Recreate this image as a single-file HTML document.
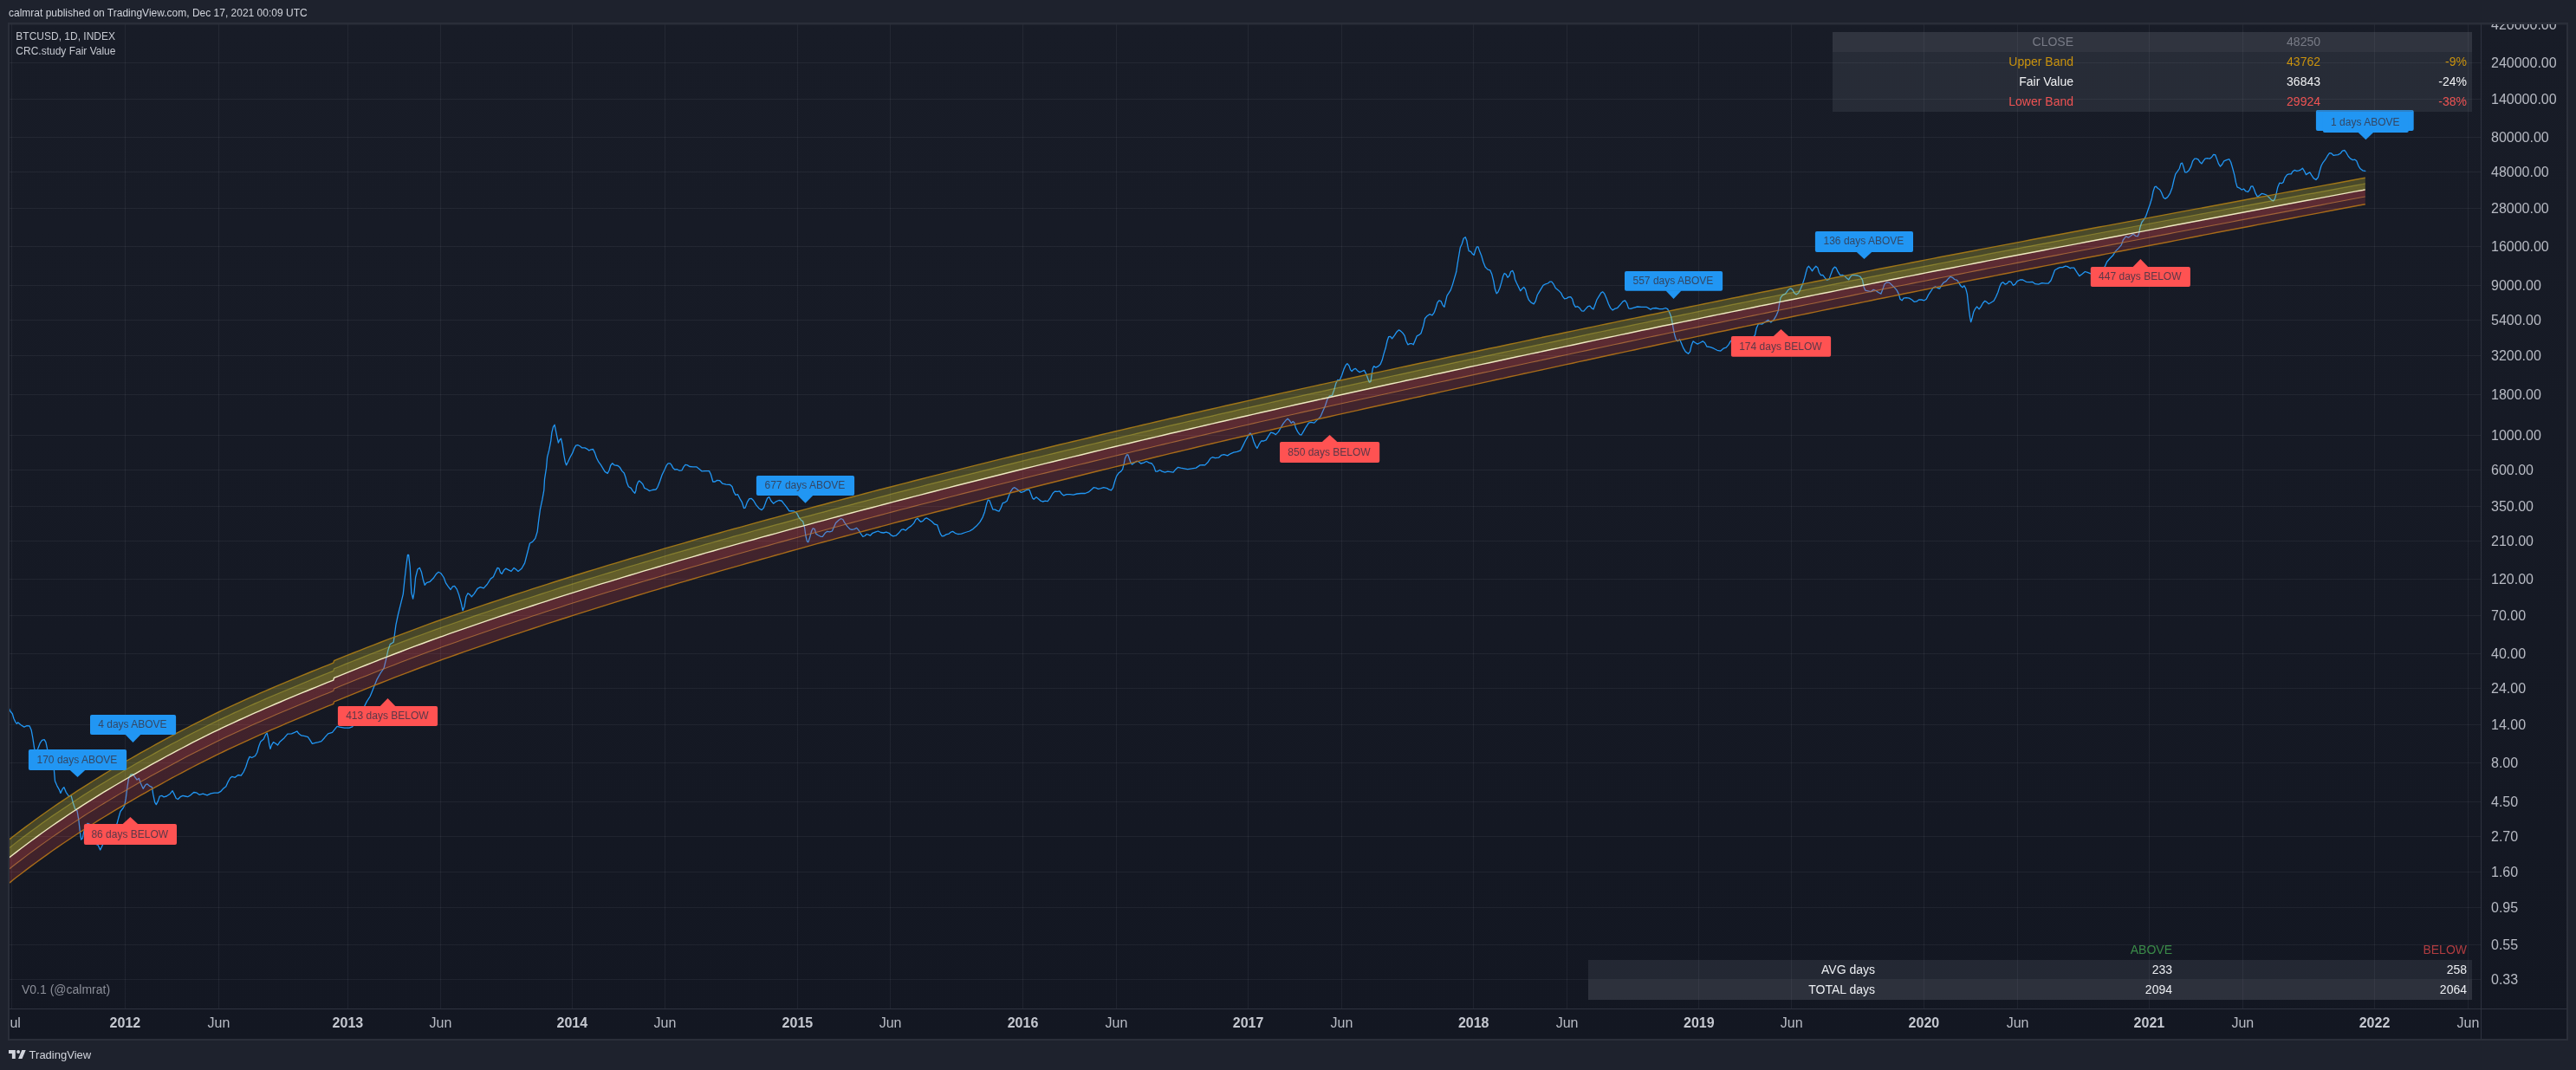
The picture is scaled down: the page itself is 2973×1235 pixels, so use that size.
<!DOCTYPE html><html><head><meta charset="utf-8"><title>BTCUSD Fair Value</title><style>
html,body{margin:0;padding:0;background:#1e222d;}
body{width:2973px;height:1235px;position:relative;overflow:hidden;font-family:"Liberation Sans",sans-serif;color:#d1d4dc;}
#root{position:absolute;left:0;top:0;width:2973px;height:1235px;will-change:transform;}
.abs{position:absolute;}
.t{white-space:nowrap;}
#frame{left:9px;top:26px;width:2951px;height:1171px;border:2px solid #2a2e39;background:linear-gradient(#181c27,#131722);}
#chart{left:0;top:0;width:2973px;height:1235px;}
.lg{font-size:12px;line-height:14px;color:#c6c9d1;}
.pl{left:11px;font-size:16px;line-height:18px;height:18px;color:#b8bbc4;}
.tl{font-size:16px;line-height:18px;height:18px;color:#b8bbc4;transform:translateX(-50%);}
.tl.b{font-weight:bold;color:#c5c8d0;}
.lab{font-size:12px;line-height:14px;height:14px;transform:translateX(-50%);}
.lab.b{color:#344764;}
.lab.r{color:#5b3848;}
.tb{font-size:14px;line-height:23px;height:23px;text-align:right;}
.row{left:0;width:100%;height:23px;}

</style></head><body><div id="root">
<div class="abs t" style="left:10px;top:7.0px;font-size:12px;line-height:16px;color:#d1d4dc">calmrat published on TradingView.com, Dec 17, 2021 00:09 UTC</div>
<div class="abs" id="frame"></div>
<svg class="abs" id="chart" width="2973" height="1235" viewBox="0 0 2973 1235">
<defs><clipPath id="cp"><rect x="11" y="28" width="2852" height="1136"/></clipPath></defs>
<rect x="13" y="28" width="1" height="1136" fill="rgba(240,243,250,0.06)"/>
<rect x="144" y="28" width="1" height="1136" fill="rgba(240,243,250,0.06)"/>
<rect x="252" y="28" width="1" height="1136" fill="rgba(240,243,250,0.06)"/>
<rect x="401" y="28" width="1" height="1136" fill="rgba(240,243,250,0.06)"/>
<rect x="508" y="28" width="1" height="1136" fill="rgba(240,243,250,0.06)"/>
<rect x="660" y="28" width="1" height="1136" fill="rgba(240,243,250,0.06)"/>
<rect x="767" y="28" width="1" height="1136" fill="rgba(240,243,250,0.06)"/>
<rect x="920" y="28" width="1" height="1136" fill="rgba(240,243,250,0.06)"/>
<rect x="1027" y="28" width="1" height="1136" fill="rgba(240,243,250,0.06)"/>
<rect x="1180" y="28" width="1" height="1136" fill="rgba(240,243,250,0.06)"/>
<rect x="1288" y="28" width="1" height="1136" fill="rgba(240,243,250,0.06)"/>
<rect x="1440" y="28" width="1" height="1136" fill="rgba(240,243,250,0.06)"/>
<rect x="1548" y="28" width="1" height="1136" fill="rgba(240,243,250,0.06)"/>
<rect x="1700" y="28" width="1" height="1136" fill="rgba(240,243,250,0.06)"/>
<rect x="1808" y="28" width="1" height="1136" fill="rgba(240,243,250,0.06)"/>
<rect x="1960" y="28" width="1" height="1136" fill="rgba(240,243,250,0.06)"/>
<rect x="2067" y="28" width="1" height="1136" fill="rgba(240,243,250,0.06)"/>
<rect x="2220" y="28" width="1" height="1136" fill="rgba(240,243,250,0.06)"/>
<rect x="2328" y="28" width="1" height="1136" fill="rgba(240,243,250,0.06)"/>
<rect x="2480" y="28" width="1" height="1136" fill="rgba(240,243,250,0.06)"/>
<rect x="2588" y="28" width="1" height="1136" fill="rgba(240,243,250,0.06)"/>
<rect x="2740" y="28" width="1" height="1136" fill="rgba(240,243,250,0.06)"/>
<rect x="2848" y="28" width="1" height="1136" fill="rgba(240,243,250,0.06)"/>
<rect x="11" y="72" width="2852" height="1" fill="rgba(240,243,250,0.06)"/>
<rect x="11" y="114" width="2852" height="1" fill="rgba(240,243,250,0.06)"/>
<rect x="11" y="158" width="2852" height="1" fill="rgba(240,243,250,0.06)"/>
<rect x="11" y="198" width="2852" height="1" fill="rgba(240,243,250,0.06)"/>
<rect x="11" y="240" width="2852" height="1" fill="rgba(240,243,250,0.06)"/>
<rect x="11" y="284" width="2852" height="1" fill="rgba(240,243,250,0.06)"/>
<rect x="11" y="329" width="2852" height="1" fill="rgba(240,243,250,0.06)"/>
<rect x="11" y="369" width="2852" height="1" fill="rgba(240,243,250,0.06)"/>
<rect x="11" y="410" width="2852" height="1" fill="rgba(240,243,250,0.06)"/>
<rect x="11" y="455" width="2852" height="1" fill="rgba(240,243,250,0.06)"/>
<rect x="11" y="502" width="2852" height="1" fill="rgba(240,243,250,0.06)"/>
<rect x="11" y="542" width="2852" height="1" fill="rgba(240,243,250,0.06)"/>
<rect x="11" y="584" width="2852" height="1" fill="rgba(240,243,250,0.06)"/>
<rect x="11" y="624" width="2852" height="1" fill="rgba(240,243,250,0.06)"/>
<rect x="11" y="668" width="2852" height="1" fill="rgba(240,243,250,0.06)"/>
<rect x="11" y="710" width="2852" height="1" fill="rgba(240,243,250,0.06)"/>
<rect x="11" y="754" width="2852" height="1" fill="rgba(240,243,250,0.06)"/>
<rect x="11" y="794" width="2852" height="1" fill="rgba(240,243,250,0.06)"/>
<rect x="11" y="836" width="2852" height="1" fill="rgba(240,243,250,0.06)"/>
<rect x="11" y="880" width="2852" height="1" fill="rgba(240,243,250,0.06)"/>
<rect x="11" y="925" width="2852" height="1" fill="rgba(240,243,250,0.06)"/>
<rect x="11" y="965" width="2852" height="1" fill="rgba(240,243,250,0.06)"/>
<rect x="11" y="1006" width="2852" height="1" fill="rgba(240,243,250,0.06)"/>
<rect x="11" y="1047" width="2852" height="1" fill="rgba(240,243,250,0.06)"/>
<rect x="11" y="1090" width="2852" height="1" fill="rgba(240,243,250,0.06)"/>
<rect x="11" y="1130" width="2852" height="1" fill="rgba(240,243,250,0.06)"/>
<rect x="2863" y="28" width="1" height="1171" fill="#2f3340"/>
<rect x="11" y="1164" width="2951" height="1" fill="#2f3340"/>
<rect x="11" y="28" width="2951" height="1" fill="rgba(42,46,57,0.55)"/>
<g clip-path="url(#cp)">
<polyline points="10.3,817.4 11.9,821.0 14.3,823.7 15.9,829.3 17.8,833.3 19.4,835.3 20.6,833.8 23.8,836.5 27.8,839.1 31.0,837.7 34.1,838.0 36.2,842.8 37.8,851.5 39.7,864.2 41.6,868.2 43.7,864.2 46.1,857.9 48.5,854.4 51.1,853.6 52.9,856.6 54.5,864.2 57.2,873.8 60.4,883.3 62.4,888.9 63.5,901.6 65.9,907.1 68.6,911.9 69.9,915.4 72.3,910.3 73.9,908.7 76.2,914.3 79.4,919.0 82.1,918.3 84.2,926.2 86.6,933.4 89.0,935.7 90.9,946.9 92.1,958.0 93.7,969.1 95.3,967.5 96.6,960.4 98.5,954.8 100.9,950.4 102.9,950.8 105.6,958.0 108.8,967.5 111.2,974.6 113.1,975.4 115.7,981.0 118.3,975.4 122.3,967.5 127.1,960.4 131.8,954.0 135.0,950.8 136.9,943.7 139.0,936.5 142.2,932.5 143.8,929.4 145.3,921.4 146.9,908.7 148.5,898.4 150.9,894.0 153.8,893.6 155.7,896.8 158.1,900.0 160.4,898.4 162.3,904.0 165.2,910.3 167.6,906.3 169.7,904.8 172.4,907.1 175.5,908.7 176.7,916.7 178.7,926.2 180.3,928.6 182.4,924.6 184.3,919.0 186.7,918.3 189.0,919.9 192.2,919.0 196.3,916.2 199.1,912.7 201.2,916.9 203.3,921.5 205.4,922.5 208.2,919.7 211.0,918.3 213.8,919.0 216.6,919.7 220.2,917.6 223.7,914.5 226.5,914.8 230.0,917.3 234.2,916.2 239.1,917.9 243.3,915.9 247.5,915.2 251.7,915.1 254.5,913.7 257.3,910.6 260.8,907.8 262.9,902.9 265.7,898.0 267.8,896.3 271.3,897.3 274.8,894.5 278.3,895.2 281.1,891.0 283.7,885.3 286.1,877.6 288.1,873.4 290.7,874.5 294.5,872.5 296.8,868.5 298.7,861.5 300.8,855.9 304.3,853.1 306.4,848.2 308.2,846.1 309.5,851.7 310.9,860.1 312.0,864.3 313.4,860.1 315.5,856.6 317.9,858.0 320.4,860.1 323.2,855.9 328.1,851.7 331.9,847.2 336.5,846.8 340.0,845.4 342.8,844.0 344.9,846.8 347.7,848.9 351.9,849.6 355.4,850.6 357.6,853.8 360.4,858.4 363.9,857.3 367.4,856.6 370.9,855.6 374.4,851.7 378.6,846.8 383.5,845.4 386.3,841.9 389.1,838.4 391.9,839.1 397.5,840.1 403.1,840.1 406.6,838.8 409.4,834.9 412.9,828.6 417.1,821.5 420.6,815.2 423.4,809.6 427.0,804.0 428.7,800.0 431.9,792.1 435.1,784.1 439.1,777.0 443.0,771.4 445.4,761.9 447.8,750.8 450.2,743.6 454.2,741.2 455.3,733.3 456.9,721.4 459.4,709.5 462.6,696.7 465.3,685.6 466.9,669.7 468.9,652.2 470.5,640.3 471.6,640.3 473.2,653.8 474.8,684.0 476.6,691.2 478.0,684.0 479.6,666.5 482.0,657.0 484.4,655.4 486.4,660.2 488.3,668.9 490.2,675.3 492.3,672.6 496.3,671.3 500.2,667.3 503.4,662.6 506.1,660.2 509.0,661.8 512.2,666.5 514.5,672.9 517.2,676.9 520.1,680.5 522.5,676.9 524.6,676.4 527.3,680.1 529.6,686.4 532.0,695.1 534.1,704.7 536.0,699.9 537.9,688.8 540.0,684.8 542.4,686.4 544.3,688.8 547.1,685.6 551.1,679.3 554.3,677.7 558.2,678.9 562.2,674.5 566.2,668.1 569.4,665.8 571.8,660.2 574.1,655.4 576.0,656.2 577.6,661.0 579.2,662.3 581.8,657.8 583.7,656.2 586.9,657.8 590.0,659.4 593.2,655.4 595.6,657.3 598.0,659.4 602.0,656.2 605.6,649.9 608.3,639.5 611.5,627.0 614.6,625.4 617.8,621.4 620.2,613.5 621.5,602.4 623.4,588.1 625.8,576.9 627.8,565.8 628.5,553.1 630.5,540.4 631.6,527.7 633.7,519.7 635.8,508.6 636.9,499.1 638.5,492.7 640.1,490.3 641.2,495.9 642.8,503.8 644.4,511.0 645.9,507.8 647.5,506.2 649.1,513.4 650.7,524.5 652.3,533.2 653.6,536.9 655.5,533.2 658.0,527.7 660.7,522.9 662.8,517.3 664.7,514.2 667.1,513.7 669.5,515.0 671.8,516.9 675.0,516.9 677.4,518.1 679.8,520.0 682.2,518.9 684.5,518.5 686.6,522.9 688.5,528.5 690.9,533.2 693.3,536.4 695.7,540.4 698.1,544.4 701.2,546.4 703.1,542.8 704.7,537.2 706.8,534.8 709.2,536.9 713.1,537.5 715.5,539.6 717.9,543.6 720.3,546.0 722.2,551.5 723.5,557.1 725.4,561.8 728.2,563.4 730.6,567.1 732.7,569.3 733.8,566.6 734.6,561.0 736.5,556.3 737.8,555.0 740.2,557.1 741.8,558.7 743.8,563.4 746.5,564.5 749.7,566.6 752.9,565.5 756.9,565.0 758.8,562.6 761.6,555.5 764.0,548.3 766.7,542.8 769.2,537.2 771.1,534.8 773.5,534.8 775.1,536.9 776.7,540.1 778.8,542.0 781.5,541.7 784.2,543.2 787.0,542.8 789.0,538.8 791.0,536.4 793.4,536.9 795.8,538.5 799.8,538.8 803.7,538.8 806.9,541.2 810.1,543.9 814.1,543.6 818.5,543.6 820.4,547.5 822.8,556.0 825.2,556.0 827.6,554.4 830.7,554.7 833.9,558.2 837.9,559.1 842.7,559.5 845.0,561.8 847.1,568.2 849.0,571.4 851.4,570.6 853.8,575.3 856.2,579.3 858.5,586.5 860.1,586.1 862.4,579.6 864.8,575.6 867.1,575.3 869.5,577.5 872.7,582.8 875.9,586.7 879.1,588.6 881.5,586.0 883.8,579.6 885.7,574.8 887.8,573.7 889.9,578.0 892.6,581.2 895.8,578.8 898.9,577.5 902.1,578.0 904.5,581.2 907.7,585.1 910.9,589.9 913.2,589.6 916.4,589.9 919.6,592.3 922.0,597.1 924.4,600.2 926.7,601.8 928.6,609.0 929.9,618.5 931.5,624.9 932.8,625.7 934.7,620.1 936.6,613.0 938.2,609.8 940.2,610.6 941.8,616.1 944.2,617.7 947.1,619.3 949.3,619.3 952.2,615.3 954.5,613.4 957.7,613.8 960.4,613.0 962.5,608.2 964.6,603.4 968.1,600.2 970.4,598.7 972.8,599.5 974.4,602.6 977.6,607.1 980.8,610.6 983.1,611.4 986.3,610.6 988.7,609.3 991.1,612.2 993.5,616.1 995.9,619.3 998.2,618.5 1000.2,616.5 1002.2,617.2 1004.3,618.2 1007.0,615.3 1010.2,614.1 1013.3,613.0 1016.5,614.5 1019.7,615.0 1022.9,614.1 1026.1,615.3 1028.4,617.7 1030.8,618.8 1034.0,618.2 1037.2,615.3 1040.4,611.4 1042.7,610.9 1045.1,612.2 1048.3,609.3 1051.5,607.1 1054.7,603.9 1057.0,599.5 1059.0,598.2 1060.5,600.2 1062.6,602.3 1065.0,601.4 1067.4,598.7 1069.4,597.9 1072.1,599.5 1075.3,601.8 1078.5,605.0 1081.7,605.8 1083.3,610.6 1085.3,616.1 1087.2,618.8 1089.6,618.5 1092.0,616.9 1095.2,616.1 1097.6,614.1 1099.6,613.4 1102.3,615.3 1105.5,616.5 1109.5,616.1 1114.2,614.5 1119.0,613.0 1123.0,610.6 1127.0,607.1 1130.9,602.6 1134.1,597.1 1136.5,590.7 1138.7,581.4 1140.3,577.0 1141.9,577.5 1144.0,583.0 1145.9,588.1 1148.3,588.1 1150.7,589.4 1153.0,590.2 1155.1,586.2 1157.3,580.6 1159.9,579.8 1162.1,578.2 1164.2,572.7 1166.5,567.1 1168.9,563.6 1171.0,562.7 1173.2,564.3 1175.8,566.3 1178.5,568.4 1181.6,567.4 1184.8,565.5 1188.0,565.2 1189.6,569.5 1191.7,575.1 1193.2,576.3 1196.0,573.8 1198.7,575.9 1201.2,578.2 1203.4,579.0 1206.3,578.2 1209.1,578.6 1211.8,575.1 1215.0,569.5 1217.4,567.1 1220.6,567.4 1223.0,566.8 1225.3,570.0 1227.7,571.9 1230.9,570.6 1234.9,570.6 1238.8,571.1 1242.8,570.0 1247.6,569.5 1252.4,569.5 1256.3,567.9 1259.5,565.2 1262.2,562.7 1264.8,563.1 1267.5,564.3 1270.6,563.6 1273.8,562.7 1277.8,563.6 1280.2,565.2 1282.5,565.9 1284.5,563.1 1286.5,556.0 1288.6,549.6 1291.3,545.7 1293.7,544.1 1295.6,541.7 1297.2,535.3 1298.4,529.0 1300.3,525.0 1301.9,525.0 1303.5,529.8 1305.1,534.5 1306.7,536.1 1309.2,534.1 1312.0,532.2 1314.3,533.0 1316.7,535.0 1319.9,534.1 1323.1,532.5 1326.2,534.1 1329.4,535.0 1331.8,538.5 1333.7,544.1 1335.8,544.1 1338.5,542.5 1341.3,544.1 1344.5,545.2 1347.7,544.1 1350.9,544.6 1354.1,545.2 1356.9,541.7 1359.6,539.3 1362.8,540.1 1366.8,540.9 1370.7,541.7 1375.5,540.9 1380.3,540.1 1385.0,536.9 1388.2,536.6 1390.6,536.9 1393.8,533.8 1397.0,529.0 1399.3,527.7 1402.5,528.7 1406.5,528.2 1409.5,525.4 1412.7,524.6 1416.7,525.9 1419.9,523.8 1423.8,522.2 1427.8,521.4 1431.8,519.8 1434.2,515.1 1437.3,508.7 1440.5,503.1 1442.9,500.0 1444.8,502.4 1446.9,509.5 1448.9,514.3 1450.8,517.5 1453.2,512.7 1455.6,509.0 1458.5,509.0 1461.2,507.9 1463.6,503.9 1466.7,499.2 1469.9,500.0 1472.3,501.6 1475.5,498.4 1478.7,492.8 1481.0,488.9 1484.2,484.9 1486.1,483.3 1488.2,485.2 1490.3,488.4 1492.2,486.5 1493.8,487.7 1495.3,493.6 1497.7,498.4 1500.1,501.6 1502.0,502.0 1504.1,498.4 1507.3,492.8 1510.4,488.1 1513.1,487.3 1516.8,488.1 1520.0,484.9 1524.0,480.9 1527.1,473.8 1529.5,468.2 1531.9,461.0 1534.3,457.1 1537.5,456.3 1539.8,449.9 1541.7,442.8 1543.8,438.5 1546.2,438.8 1548.6,433.2 1551.0,426.1 1553.3,421.3 1554.9,419.7 1557.0,422.1 1558.6,426.9 1560.2,428.5 1562.4,426.1 1564.5,425.3 1566.5,427.7 1569.2,429.6 1571.9,428.5 1574.5,427.4 1576.7,431.6 1578.8,437.2 1580.4,441.2 1582.0,440.4 1583.1,432.4 1584.3,425.3 1585.6,422.6 1587.8,424.2 1590.4,422.9 1593.1,420.5 1595.1,415.8 1597.0,408.6 1599.4,400.7 1601.0,393.5 1602.6,388.7 1604.7,388.3 1606.6,390.8 1609.4,387.1 1612.1,382.9 1614.5,380.8 1616.9,382.4 1619.3,384.8 1621.2,387.6 1622.8,393.5 1624.8,397.8 1627.2,396.7 1629.6,396.7 1631.2,397.8 1633.3,392.7 1635.2,387.9 1637.6,386.7 1640.0,384.8 1642.7,376.2 1644.6,367.5 1646.7,365.1 1649.9,362.7 1653.0,363.8 1655.4,360.3 1657.3,354.8 1658.9,349.2 1661.0,346.8 1663.0,347.6 1665.0,352.1 1666.9,354.3 1668.5,347.6 1670.0,341.3 1672.1,338.1 1674.2,334.9 1676.4,328.6 1678.5,321.4 1680.8,313.5 1682.1,304.7 1683.7,295.2 1685.3,285.7 1687.2,281.7 1689.1,275.3 1691.2,273.7 1692.8,277.7 1693.9,284.1 1695.2,289.6 1697.5,290.4 1699.6,293.3 1701.2,294.4 1702.8,288.8 1704.4,284.9 1706.0,284.9 1707.5,289.6 1709.8,295.2 1711.8,302.3 1714.2,308.2 1717.1,311.1 1719.8,311.9 1721.8,316.6 1723.8,324.6 1725.3,333.3 1727.2,338.9 1728.8,337.3 1730.9,332.5 1733.0,325.4 1734.6,319.0 1736.2,315.5 1738.1,316.6 1740.0,320.3 1742.0,318.2 1743.6,313.5 1745.7,312.4 1747.3,315.9 1748.4,322.2 1750.5,327.0 1752.4,330.9 1754.7,335.7 1756.8,333.3 1758.7,331.4 1760.6,334.1 1762.2,340.5 1764.3,346.0 1767.0,349.2 1770.2,350.8 1772.2,347.6 1774.3,340.5 1776.2,337.3 1778.6,333.3 1781.0,329.4 1783.8,327.8 1786.5,327.0 1788.9,325.1 1790.8,325.1 1792.9,327.8 1795.3,332.5 1798.4,334.9 1801.6,338.1 1803.5,342.1 1805.6,344.8 1808.0,344.4 1810.4,342.9 1812.7,342.6 1814.7,345.2 1816.2,350.8 1818.3,354.3 1820.7,353.7 1823.1,355.6 1825.5,358.8 1827.8,359.1 1830.2,356.4 1832.6,353.7 1835.0,353.2 1836.9,355.6 1839.0,356.9 1841.0,351.6 1842.9,346.0 1845.3,342.1 1847.7,338.1 1849.6,336.8 1851.7,338.9 1854.1,344.4 1856.4,350.8 1858.8,355.6 1861.2,358.0 1863.6,356.4 1866.8,355.3 1870.0,351.6 1873.1,347.9 1875.5,346.8 1877.6,350.0 1879.5,355.9 1881.9,356.4 1885.0,355.3 1889.8,354.0 1894.6,354.3 1900.1,354.3 1902.5,355.6 1904.9,357.2 1907.3,355.9 1911.1,355.5 1915.1,356.6 1919.1,356.6 1922.2,355.5 1924.6,356.6 1926.7,360.6 1928.6,365.3 1929.9,371.7 1931.0,378.1 1932.6,386.0 1934.2,391.6 1936.2,393.9 1938.5,391.6 1940.5,396.3 1942.9,401.9 1945.3,405.9 1948.5,408.2 1950.5,405.9 1952.1,398.7 1954.0,393.9 1956.4,395.5 1959.1,397.1 1962.3,395.5 1965.2,393.9 1967.5,395.5 1969.9,400.0 1973.9,400.6 1977.9,402.2 1981.8,404.3 1985.8,405.1 1989.0,402.2 1992.2,401.1 1995.0,397.9 1997.2,393.9 1999.3,392.0 2003.3,391.7 2008.8,392.4 2014.4,390.8 2020.0,390.1 2024.0,388.4 2025.5,386.8 2027.1,378.9 2029.5,373.6 2033.5,374.1 2037.0,371.7 2040.6,369.3 2043.8,372.0 2047.0,369.3 2050.2,363.8 2052.2,359.0 2053.3,352.6 2054.9,343.9 2057.3,340.7 2060.5,339.1 2063.7,334.8 2066.5,332.8 2068.8,334.4 2070.8,338.3 2073.2,339.9 2075.6,338.3 2078.0,333.6 2080.4,328.0 2082.7,320.9 2084.3,314.5 2085.9,308.9 2087.5,307.3 2089.4,309.7 2091.5,312.9 2093.6,309.7 2095.8,307.3 2097.8,308.9 2099.4,314.5 2101.5,317.7 2103.7,317.4 2106.3,320.9 2108.5,323.2 2111.0,322.4 2112.9,316.9 2115.3,310.5 2117.4,308.1 2119.3,309.4 2121.2,313.7 2123.7,317.7 2126.4,317.4 2128.8,318.5 2131.2,320.9 2133.6,322.8 2135.5,319.6 2137.6,317.4 2140.7,317.7 2143.9,318.0 2147.1,319.3 2149.5,323.2 2151.1,331.2 2152.7,335.1 2155.8,335.9 2159.0,336.7 2162.2,334.4 2165.1,335.5 2167.8,337.5 2170.9,339.1 2173.0,333.6 2174.9,328.0 2177.3,325.9 2180.3,326.1 2183.0,328.5 2185.9,331.4 2189.1,334.9 2191.4,339.6 2193.0,345.2 2195.1,346.8 2197.0,344.1 2200.2,343.6 2203.4,344.1 2206.6,346.0 2209.4,348.4 2212.1,347.9 2214.5,346.0 2217.7,346.0 2220.8,346.8 2223.2,345.2 2225.6,340.4 2228.8,335.7 2231.2,332.0 2233.6,330.9 2236.4,332.5 2238.7,333.0 2240.7,329.3 2243.1,326.1 2246.0,324.6 2248.7,321.4 2251.0,319.3 2253.4,320.3 2255.8,322.5 2258.7,323.4 2260.6,326.1 2263.0,330.1 2265.0,331.7 2266.9,329.8 2268.8,333.3 2270.4,339.6 2271.4,349.2 2272.5,358.7 2273.6,366.7 2274.6,371.7 2276.2,366.7 2277.7,360.3 2279.7,356.3 2281.6,353.9 2284.1,356.8 2286.3,353.9 2288.4,350.0 2290.8,347.3 2293.2,348.9 2295.2,350.8 2297.9,349.2 2301.1,347.3 2303.5,342.8 2305.9,337.3 2307.9,330.9 2309.8,326.9 2311.7,325.7 2314.3,328.2 2316.5,327.2 2318.6,324.6 2321.0,325.3 2323.3,329.3 2325.7,328.2 2328.1,324.6 2331.3,323.0 2334.5,323.0 2338.4,325.3 2342.4,325.7 2345.6,325.3 2348.8,327.7 2352.7,328.2 2356.7,326.6 2360.7,327.2 2363.9,327.2 2367.0,323.8 2369.4,317.4 2371.5,311.8 2374.2,310.2 2377.4,308.7 2380.6,308.7 2383.7,307.1 2386.1,307.6 2389.3,309.8 2390.0,309.2 2393.7,309.2 2397.0,314.4 2399.8,318.6 2403.1,316.3 2406.4,313.5 2409.2,314.4 2412.9,315.8 2417.1,315.3 2420.8,313.5 2424.6,311.1 2427.4,309.2 2429.2,307.9 2431.6,302.2 2434.9,298.5 2438.6,294.8 2441.4,290.1 2445.1,286.4 2448.4,282.6 2450.3,277.0 2453.6,272.8 2456.4,274.2 2459.2,272.3 2462.0,270.0 2462.4,270.4 2464.8,272.4 2467.2,272.7 2468.7,269.2 2469.8,262.8 2471.9,256.5 2474.3,253.3 2476.7,249.3 2479.1,242.2 2481.4,235.8 2483.5,228.7 2485.1,220.7 2486.7,215.9 2488.3,215.2 2490.5,217.5 2492.6,218.7 2494.6,222.3 2496.9,227.9 2498.9,229.4 2501.6,227.6 2504.5,223.1 2506.9,216.7 2508.9,208.0 2510.8,200.8 2513.2,197.7 2515.3,194.5 2516.9,188.9 2518.5,188.1 2520.1,192.9 2521.7,198.9 2523.6,198.9 2526.4,196.4 2528.7,192.1 2530.7,185.8 2532.8,183.1 2535.0,183.1 2537.1,184.2 2539.1,187.3 2541.0,188.9 2542.9,185.8 2545.0,183.1 2547.4,182.6 2550.3,183.1 2552.5,181.5 2554.6,178.3 2556.6,178.6 2558.5,183.4 2560.4,188.9 2562.5,192.1 2564.6,189.7 2566.8,185.8 2569.7,184.6 2572.8,183.7 2574.7,187.3 2576.8,194.5 2578.9,202.4 2580.4,210.4 2582.0,215.9 2584.7,217.1 2587.1,219.1 2589.5,218.0 2591.9,220.7 2594.3,221.5 2596.3,219.1 2597.9,215.2 2599.8,214.8 2601.4,218.3 2603.3,223.4 2605.4,227.1 2607.8,225.5 2610.2,223.4 2612.6,223.9 2615.7,225.0 2618.9,227.9 2621.3,230.7 2623.7,231.8 2625.6,229.1 2627.2,223.1 2628.8,215.9 2630.8,211.2 2633.2,211.7 2635.1,210.4 2637.2,204.8 2639.6,201.6 2641.9,200.8 2644.3,200.8 2646.2,197.7 2648.3,196.4 2650.7,197.3 2653.1,196.9 2655.5,195.8 2657.4,194.2 2659.4,197.3 2661.5,201.6 2663.7,200.1 2665.8,198.9 2667.8,202.1 2670.1,205.6 2672.9,207.5 2675.3,204.8 2676.9,198.5 2679.0,191.3 2681.2,187.3 2683.7,184.2 2686.0,180.2 2688.5,176.7 2690.7,177.0 2693.3,179.4 2696.0,178.9 2698.4,178.6 2701.2,177.0 2703.4,174.2 2706.0,173.5 2707.9,176.2 2710.3,180.5 2712.7,183.1 2715.5,184.6 2717.8,184.2 2719.8,185.8 2721.9,191.3 2724.1,194.8 2727.0,196.9 2729.8,197.3" fill="none" stroke="#2196f3" stroke-width="1.3" stroke-linejoin="round" stroke-linecap="round"/>
<polygon points="0.0,977.5 6.0,972.7 12.0,967.9 18.0,963.2 24.0,958.6 30.0,954.1 36.0,949.7 42.0,945.3 48.0,941.0 54.0,936.7 60.0,932.5 66.0,928.4 72.0,924.3 78.0,920.3 84.0,916.3 90.0,912.4 96.0,908.6 102.0,904.8 108.0,901.0 114.0,897.3 120.0,893.6 126.0,890.0 132.0,886.4 138.0,882.9 144.0,879.4 150.0,876.0 156.0,872.6 162.0,869.2 168.0,865.8 174.0,862.5 180.0,859.1 186.0,855.9 192.0,852.6 198.0,849.4 204.0,846.2 210.0,843.1 216.0,840.0 222.0,836.9 228.0,833.8 234.0,830.8 240.0,827.9 246.0,824.9 252.0,822.0 258.0,819.2 264.0,816.4 270.0,813.6 276.0,810.8 282.0,808.1 288.0,805.4 294.0,802.8 300.0,800.2 306.0,797.6 312.0,795.0 318.0,792.4 324.0,789.9 330.0,787.4 336.0,784.9 342.0,782.4 348.0,779.9 354.0,777.5 360.0,775.0 366.0,772.6 372.0,770.2 378.0,767.8 384.0,765.3 384.8,765.0 385.6,762.5 390.8,760.4 398.8,757.2 406.8,754.0 414.8,750.9 422.8,747.7 430.8,744.6 438.8,741.5 446.8,738.4 454.8,735.3 462.8,732.3 470.8,729.3 478.8,726.3 486.8,723.3 494.8,720.4 502.8,717.5 510.8,714.7 518.8,711.9 526.8,709.1 534.8,706.3 542.8,703.6 550.8,700.9 558.8,698.2 566.8,695.5 574.8,692.8 582.8,690.1 590.8,687.5 598.8,684.9 606.8,682.3 614.8,679.7 622.8,677.1 630.8,674.6 638.8,672.0 646.8,669.5 654.8,667.0 662.8,664.5 670.8,662.0 678.8,659.5 686.8,657.1 694.8,654.6 702.8,652.2 710.8,649.8 718.8,647.4 726.8,645.0 734.8,642.6 742.8,640.3 750.8,637.9 758.8,635.6 766.8,633.2 774.8,630.9 782.8,628.6 790.8,626.3 798.8,624.0 806.8,621.7 814.8,619.5 822.8,617.2 830.8,615.0 838.8,612.7 846.8,610.5 854.8,608.3 862.8,606.1 870.8,603.8 878.8,601.6 886.8,599.5 894.8,597.3 902.8,595.1 910.8,592.9 918.8,590.8 926.8,588.6 934.8,586.4 942.8,584.3 950.8,582.2 958.8,580.0 966.8,577.9 974.8,575.8 982.8,573.7 990.8,571.6 998.8,569.5 1006.8,567.4 1014.8,565.3 1022.8,563.3 1030.8,561.2 1038.8,559.1 1046.8,557.1 1054.8,555.0 1062.8,553.0 1070.8,550.9 1078.8,548.9 1086.8,546.9 1094.8,544.9 1102.8,542.9 1110.8,540.9 1118.8,538.9 1126.8,536.9 1134.8,534.9 1142.8,532.9 1150.8,530.9 1158.8,528.9 1166.8,527.0 1174.8,525.0 1182.8,523.1 1190.8,521.1 1198.8,519.2 1206.8,517.2 1214.8,515.3 1222.8,513.3 1230.8,511.4 1238.8,509.5 1246.8,507.6 1254.8,505.7 1262.8,503.7 1270.8,501.8 1278.8,499.9 1286.8,498.0 1294.8,496.1 1302.8,494.3 1310.8,492.4 1318.8,490.5 1326.8,488.6 1334.8,486.7 1342.8,484.9 1350.8,483.0 1358.8,481.2 1366.8,479.3 1374.8,477.5 1382.8,475.6 1390.8,473.8 1398.8,472.0 1406.8,470.1 1414.8,468.3 1422.8,466.5 1430.8,464.7 1438.8,462.9 1446.8,461.1 1454.8,459.3 1462.8,457.5 1470.8,455.7 1478.8,453.9 1486.8,452.2 1494.8,450.4 1502.8,448.6 1510.8,446.9 1518.8,445.1 1526.8,443.4 1534.8,441.6 1542.8,439.9 1550.8,438.2 1558.8,436.5 1566.8,434.7 1574.8,433.0 1582.8,431.3 1590.8,429.6 1598.8,427.9 1606.8,426.2 1614.8,424.4 1622.8,422.7 1630.8,421.0 1638.8,419.3 1646.8,417.6 1654.8,415.9 1662.8,414.2 1670.8,412.5 1678.8,410.8 1686.8,409.1 1694.8,407.4 1702.8,405.7 1710.8,404.0 1718.8,402.3 1726.8,400.7 1734.8,399.0 1742.8,397.3 1750.8,395.6 1758.8,393.9 1766.8,392.2 1774.8,390.5 1782.8,388.8 1790.8,387.1 1798.8,385.5 1806.8,383.8 1814.8,382.1 1822.8,380.4 1830.8,378.8 1838.8,377.1 1846.8,375.4 1854.8,373.8 1862.8,372.1 1870.8,370.4 1878.8,368.8 1886.8,367.1 1894.8,365.5 1902.8,363.8 1910.8,362.2 1918.8,360.5 1926.8,358.9 1934.8,357.3 1942.8,355.6 1950.8,354.0 1958.8,352.4 1966.8,350.7 1974.8,349.1 1982.8,347.5 1990.8,345.9 1998.8,344.3 2006.8,342.7 2014.8,341.0 2022.8,339.4 2030.8,337.8 2038.8,336.2 2046.8,334.6 2054.8,333.0 2062.8,331.4 2070.8,329.8 2078.8,328.2 2086.8,326.6 2094.8,325.0 2102.8,323.5 2110.8,321.9 2118.8,320.3 2126.8,318.7 2134.8,317.1 2142.8,315.5 2150.8,314.0 2158.8,312.4 2166.8,310.8 2174.8,309.3 2182.8,307.7 2190.8,306.1 2198.8,304.6 2206.8,303.0 2214.8,301.5 2222.8,299.9 2230.8,298.4 2238.8,296.8 2246.8,295.3 2254.8,293.8 2262.8,292.2 2270.8,290.7 2278.8,289.2 2286.8,287.6 2294.8,286.1 2302.8,284.6 2310.8,283.1 2318.8,281.6 2326.8,280.1 2334.8,278.6 2342.8,277.0 2350.8,275.5 2358.8,274.0 2366.8,272.5 2374.8,271.0 2382.8,269.5 2390.8,268.0 2398.8,266.5 2406.8,265.0 2414.8,263.5 2422.8,262.0 2430.8,260.6 2438.8,259.1 2446.8,257.6 2454.8,256.1 2462.8,254.6 2470.8,253.1 2478.8,251.6 2486.8,250.1 2494.8,248.6 2502.8,247.1 2510.8,245.6 2518.8,244.1 2526.8,242.6 2534.8,241.1 2542.8,239.7 2550.8,238.2 2558.8,236.7 2566.8,235.2 2574.8,233.7 2582.8,232.3 2590.8,230.8 2598.8,229.3 2606.8,227.8 2614.8,226.4 2622.8,224.9 2630.8,223.4 2638.8,221.9 2646.8,220.5 2654.8,219.0 2662.8,217.5 2670.8,216.1 2678.8,214.6 2686.8,213.1 2694.8,211.7 2702.8,210.2 2710.8,208.7 2718.8,207.3 2726.8,205.8 2729.8,205.3 2729.8,211.9 2726.8,212.5 2718.8,213.9 2710.8,215.4 2702.8,216.9 2694.8,218.3 2686.8,219.8 2678.8,221.3 2670.8,222.8 2662.8,224.2 2654.8,225.7 2646.8,227.2 2638.8,228.7 2630.8,230.2 2622.8,231.6 2614.8,233.1 2606.8,234.6 2598.8,236.1 2590.8,237.6 2582.8,239.1 2574.8,240.5 2566.8,242.0 2558.8,243.5 2550.8,245.0 2542.8,246.5 2534.8,248.0 2526.8,249.5 2518.8,251.0 2510.8,252.5 2502.8,254.0 2494.8,255.5 2486.8,257.0 2478.8,258.5 2470.8,260.0 2462.8,261.5 2454.8,263.0 2446.8,264.5 2438.8,266.0 2430.8,267.5 2422.8,269.0 2414.8,270.5 2406.8,272.0 2398.8,273.5 2390.8,275.0 2382.8,276.6 2374.8,278.1 2366.8,279.6 2358.8,281.1 2350.8,282.6 2342.8,284.1 2334.8,285.6 2326.8,287.1 2318.8,288.7 2310.8,290.2 2302.8,291.7 2294.8,293.2 2286.8,294.8 2278.8,296.3 2270.8,297.8 2262.8,299.4 2254.8,300.9 2246.8,302.5 2238.8,304.0 2230.8,305.6 2222.8,307.1 2214.8,308.7 2206.8,310.2 2198.8,311.8 2190.8,313.4 2182.8,314.9 2174.8,316.5 2166.8,318.1 2158.8,319.7 2150.8,321.3 2142.8,322.8 2134.8,324.4 2126.8,326.0 2118.8,327.6 2110.8,329.2 2102.8,330.8 2094.8,332.4 2086.8,334.0 2078.8,335.6 2070.8,337.2 2062.8,338.8 2054.8,340.4 2046.8,342.0 2038.8,343.6 2030.8,345.2 2022.8,346.8 2014.8,348.5 2006.8,350.1 1998.8,351.7 1990.8,353.3 1982.8,355.0 1974.8,356.6 1966.8,358.2 1958.8,359.9 1950.8,361.5 1942.8,363.1 1934.8,364.8 1926.8,366.4 1918.8,368.1 1910.8,369.7 1902.8,371.4 1894.8,373.0 1886.8,374.7 1878.8,376.4 1870.8,378.0 1862.8,379.7 1854.8,381.4 1846.8,383.0 1838.8,384.7 1830.8,386.4 1822.8,388.1 1814.8,389.8 1806.8,391.4 1798.8,393.1 1790.8,394.8 1782.8,396.5 1774.8,398.2 1766.8,399.9 1758.8,401.6 1750.8,403.3 1742.8,405.0 1734.8,406.7 1726.8,408.4 1718.8,410.1 1710.8,411.8 1702.8,413.5 1694.8,415.2 1686.8,416.9 1678.8,418.6 1670.8,420.3 1662.8,422.1 1654.8,423.8 1646.8,425.5 1638.8,427.2 1630.8,428.9 1622.8,430.6 1614.8,432.3 1606.8,434.0 1598.8,435.8 1590.8,437.5 1582.8,439.2 1574.8,440.9 1566.8,442.7 1558.8,444.4 1550.8,446.1 1542.8,447.9 1534.8,449.6 1526.8,451.4 1518.8,453.1 1510.8,454.9 1502.8,456.6 1494.8,458.4 1486.8,460.2 1478.8,461.9 1470.8,463.7 1462.8,465.5 1454.8,467.3 1446.8,469.1 1438.8,470.9 1430.8,472.7 1422.8,474.6 1414.8,476.4 1406.8,478.2 1398.8,480.1 1390.8,481.9 1382.8,483.8 1374.8,485.6 1366.8,487.5 1358.8,489.3 1350.8,491.2 1342.8,493.1 1334.8,494.9 1326.8,496.8 1318.8,498.7 1310.8,500.6 1302.8,502.5 1294.8,504.4 1286.8,506.3 1278.8,508.2 1270.8,510.1 1262.8,512.0 1254.8,513.9 1246.8,515.8 1238.8,517.8 1230.8,519.7 1222.8,521.6 1214.8,523.6 1206.8,525.5 1198.8,527.5 1190.8,529.4 1182.8,531.4 1174.8,533.4 1166.8,535.3 1158.8,537.3 1150.8,539.3 1142.8,541.3 1134.8,543.3 1126.8,545.3 1118.8,547.3 1110.8,549.3 1102.8,551.3 1094.8,553.3 1086.8,555.3 1078.8,557.4 1070.8,559.4 1062.8,561.5 1054.8,563.5 1046.8,565.6 1038.8,567.6 1030.8,569.7 1022.8,571.8 1014.8,573.9 1006.8,576.0 998.8,578.1 990.8,580.2 982.8,582.3 974.8,584.4 966.8,586.5 958.8,588.6 950.8,590.8 942.8,592.9 934.8,595.1 926.8,597.2 918.8,599.4 910.8,601.6 902.8,603.8 894.8,605.9 886.8,608.1 878.8,610.3 870.8,612.5 862.8,614.8 854.8,617.0 846.8,619.2 838.8,621.5 830.8,623.7 822.8,626.0 814.8,628.2 806.8,630.5 798.8,632.8 790.8,635.1 782.8,637.4 774.8,639.7 766.8,642.0 758.8,644.4 750.8,646.7 742.8,649.1 734.8,651.5 726.8,653.8 718.8,656.2 710.8,658.7 702.8,661.1 694.8,663.5 686.8,666.0 678.8,668.4 670.8,670.9 662.8,673.4 654.8,675.9 646.8,678.4 638.8,681.0 630.8,683.5 622.8,686.1 614.8,688.7 606.8,691.3 598.8,693.9 590.8,696.5 582.8,699.1 574.8,701.8 566.8,704.5 558.8,707.2 550.8,709.9 542.8,712.6 534.8,715.4 526.8,718.2 518.8,721.0 510.8,723.8 502.8,726.6 494.8,729.5 486.8,732.5 478.8,735.4 470.8,738.4 462.8,741.4 454.8,744.5 446.8,747.5 438.8,750.6 430.8,753.8 422.8,756.9 414.8,760.1 406.8,763.3 398.8,766.4 390.8,769.7 385.6,771.7 384.8,774.3 384.0,774.6 378.0,777.0 372.0,779.4 366.0,781.9 360.0,784.3 354.0,786.7 348.0,789.2 342.0,791.7 336.0,794.2 330.0,796.7 324.0,799.2 318.0,801.7 312.0,804.3 306.0,806.9 300.0,809.5 294.0,812.1 288.0,814.8 282.0,817.5 276.0,820.2 270.0,822.9 264.0,825.7 258.0,828.6 252.0,831.4 246.0,834.3 240.0,837.3 234.0,840.2 228.0,843.2 222.0,846.3 216.0,849.4 210.0,852.5 204.0,855.7 198.0,858.8 192.0,862.1 186.0,865.3 180.0,868.6 174.0,871.9 168.0,875.3 162.0,878.6 156.0,882.0 150.0,885.5 144.0,888.9 138.0,892.4 132.0,896.0 126.0,899.5 120.0,903.2 114.0,906.8 108.0,910.5 102.0,914.3 96.0,918.1 90.0,922.0 84.0,925.9 78.0,929.9 72.0,933.9 66.0,938.0 60.0,942.1 54.0,946.3 48.0,950.6 42.0,954.9 36.0,959.3 30.0,963.7 24.0,968.3 18.0,972.9 12.0,977.6 6.0,982.3 0.0,987.2" fill="rgba(255,235,59,0.22)"/>
<polygon points="0.0,987.2 6.0,982.3 12.0,977.6 18.0,972.9 24.0,968.3 30.0,963.7 36.0,959.3 42.0,954.9 48.0,950.6 54.0,946.3 60.0,942.1 66.0,938.0 72.0,933.9 78.0,929.9 84.0,925.9 90.0,922.0 96.0,918.1 102.0,914.3 108.0,910.5 114.0,906.8 120.0,903.2 126.0,899.5 132.0,896.0 138.0,892.4 144.0,888.9 150.0,885.5 156.0,882.0 162.0,878.6 168.0,875.3 174.0,871.9 180.0,868.6 186.0,865.3 192.0,862.1 198.0,858.8 204.0,855.7 210.0,852.5 216.0,849.4 222.0,846.3 228.0,843.2 234.0,840.2 240.0,837.3 246.0,834.3 252.0,831.4 258.0,828.6 264.0,825.7 270.0,822.9 276.0,820.2 282.0,817.5 288.0,814.8 294.0,812.1 300.0,809.5 306.0,806.9 312.0,804.3 318.0,801.7 324.0,799.2 330.0,796.7 336.0,794.2 342.0,791.7 348.0,789.2 354.0,786.7 360.0,784.3 366.0,781.9 372.0,779.4 378.0,777.0 384.0,774.6 384.8,774.3 385.6,771.7 390.8,769.7 398.8,766.4 406.8,763.3 414.8,760.1 422.8,756.9 430.8,753.8 438.8,750.6 446.8,747.5 454.8,744.5 462.8,741.4 470.8,738.4 478.8,735.4 486.8,732.5 494.8,729.5 502.8,726.6 510.8,723.8 518.8,721.0 526.8,718.2 534.8,715.4 542.8,712.6 550.8,709.9 558.8,707.2 566.8,704.5 574.8,701.8 582.8,699.1 590.8,696.5 598.8,693.9 606.8,691.3 614.8,688.7 622.8,686.1 630.8,683.5 638.8,681.0 646.8,678.4 654.8,675.9 662.8,673.4 670.8,670.9 678.8,668.4 686.8,666.0 694.8,663.5 702.8,661.1 710.8,658.7 718.8,656.2 726.8,653.8 734.8,651.5 742.8,649.1 750.8,646.7 758.8,644.4 766.8,642.0 774.8,639.7 782.8,637.4 790.8,635.1 798.8,632.8 806.8,630.5 814.8,628.2 822.8,626.0 830.8,623.7 838.8,621.5 846.8,619.2 854.8,617.0 862.8,614.8 870.8,612.5 878.8,610.3 886.8,608.1 894.8,605.9 902.8,603.8 910.8,601.6 918.8,599.4 926.8,597.2 934.8,595.1 942.8,592.9 950.8,590.8 958.8,588.6 966.8,586.5 974.8,584.4 982.8,582.3 990.8,580.2 998.8,578.1 1006.8,576.0 1014.8,573.9 1022.8,571.8 1030.8,569.7 1038.8,567.6 1046.8,565.6 1054.8,563.5 1062.8,561.5 1070.8,559.4 1078.8,557.4 1086.8,555.3 1094.8,553.3 1102.8,551.3 1110.8,549.3 1118.8,547.3 1126.8,545.3 1134.8,543.3 1142.8,541.3 1150.8,539.3 1158.8,537.3 1166.8,535.3 1174.8,533.4 1182.8,531.4 1190.8,529.4 1198.8,527.5 1206.8,525.5 1214.8,523.6 1222.8,521.6 1230.8,519.7 1238.8,517.8 1246.8,515.8 1254.8,513.9 1262.8,512.0 1270.8,510.1 1278.8,508.2 1286.8,506.3 1294.8,504.4 1302.8,502.5 1310.8,500.6 1318.8,498.7 1326.8,496.8 1334.8,494.9 1342.8,493.1 1350.8,491.2 1358.8,489.3 1366.8,487.5 1374.8,485.6 1382.8,483.8 1390.8,481.9 1398.8,480.1 1406.8,478.2 1414.8,476.4 1422.8,474.6 1430.8,472.7 1438.8,470.9 1446.8,469.1 1454.8,467.3 1462.8,465.5 1470.8,463.7 1478.8,461.9 1486.8,460.2 1494.8,458.4 1502.8,456.6 1510.8,454.9 1518.8,453.1 1526.8,451.4 1534.8,449.6 1542.8,447.9 1550.8,446.1 1558.8,444.4 1566.8,442.7 1574.8,440.9 1582.8,439.2 1590.8,437.5 1598.8,435.8 1606.8,434.0 1614.8,432.3 1622.8,430.6 1630.8,428.9 1638.8,427.2 1646.8,425.5 1654.8,423.8 1662.8,422.1 1670.8,420.3 1678.8,418.6 1686.8,416.9 1694.8,415.2 1702.8,413.5 1710.8,411.8 1718.8,410.1 1726.8,408.4 1734.8,406.7 1742.8,405.0 1750.8,403.3 1758.8,401.6 1766.8,399.9 1774.8,398.2 1782.8,396.5 1790.8,394.8 1798.8,393.1 1806.8,391.4 1814.8,389.8 1822.8,388.1 1830.8,386.4 1838.8,384.7 1846.8,383.0 1854.8,381.4 1862.8,379.7 1870.8,378.0 1878.8,376.4 1886.8,374.7 1894.8,373.0 1902.8,371.4 1910.8,369.7 1918.8,368.1 1926.8,366.4 1934.8,364.8 1942.8,363.1 1950.8,361.5 1958.8,359.9 1966.8,358.2 1974.8,356.6 1982.8,355.0 1990.8,353.3 1998.8,351.7 2006.8,350.1 2014.8,348.5 2022.8,346.8 2030.8,345.2 2038.8,343.6 2046.8,342.0 2054.8,340.4 2062.8,338.8 2070.8,337.2 2078.8,335.6 2086.8,334.0 2094.8,332.4 2102.8,330.8 2110.8,329.2 2118.8,327.6 2126.8,326.0 2134.8,324.4 2142.8,322.8 2150.8,321.3 2158.8,319.7 2166.8,318.1 2174.8,316.5 2182.8,314.9 2190.8,313.4 2198.8,311.8 2206.8,310.2 2214.8,308.7 2222.8,307.1 2230.8,305.6 2238.8,304.0 2246.8,302.5 2254.8,300.9 2262.8,299.4 2270.8,297.8 2278.8,296.3 2286.8,294.8 2294.8,293.2 2302.8,291.7 2310.8,290.2 2318.8,288.7 2326.8,287.1 2334.8,285.6 2342.8,284.1 2350.8,282.6 2358.8,281.1 2366.8,279.6 2374.8,278.1 2382.8,276.6 2390.8,275.0 2398.8,273.5 2406.8,272.0 2414.8,270.5 2422.8,269.0 2430.8,267.5 2438.8,266.0 2446.8,264.5 2454.8,263.0 2462.8,261.5 2470.8,260.0 2478.8,258.5 2486.8,257.0 2494.8,255.5 2502.8,254.0 2510.8,252.5 2518.8,251.0 2526.8,249.5 2534.8,248.0 2542.8,246.5 2550.8,245.0 2558.8,243.5 2566.8,242.0 2574.8,240.5 2582.8,239.1 2590.8,237.6 2598.8,236.1 2606.8,234.6 2614.8,233.1 2622.8,231.6 2630.8,230.2 2638.8,228.7 2646.8,227.2 2654.8,225.7 2662.8,224.2 2670.8,222.8 2678.8,221.3 2686.8,219.8 2694.8,218.3 2702.8,216.9 2710.8,215.4 2718.8,213.9 2726.8,212.5 2729.8,211.9 2729.8,218.9 2726.8,219.5 2718.8,220.9 2710.8,222.4 2702.8,223.9 2694.8,225.4 2686.8,226.9 2678.8,228.4 2670.8,229.9 2662.8,231.3 2654.8,232.8 2646.8,234.3 2638.8,235.8 2630.8,237.3 2622.8,238.8 2614.8,240.3 2606.8,241.8 2598.8,243.3 2590.8,244.8 2582.8,246.3 2574.8,247.8 2566.8,249.3 2558.8,250.8 2550.8,252.3 2542.8,253.8 2534.8,255.3 2526.8,256.8 2518.8,258.3 2510.8,259.8 2502.8,261.3 2494.8,262.9 2486.8,264.4 2478.8,265.9 2470.8,267.4 2462.8,268.9 2454.8,270.4 2446.8,272.0 2438.8,273.5 2430.8,275.0 2422.8,276.5 2414.8,278.0 2406.8,279.5 2398.8,281.1 2390.8,282.6 2382.8,284.1 2374.8,285.6 2366.8,287.1 2358.8,288.7 2350.8,290.2 2342.8,291.7 2334.8,293.2 2326.8,294.8 2318.8,296.3 2310.8,297.8 2302.8,299.4 2294.8,300.9 2286.8,302.5 2278.8,304.0 2270.8,305.6 2262.8,307.1 2254.8,308.7 2246.8,310.2 2238.8,311.8 2230.8,313.3 2222.8,314.9 2214.8,316.5 2206.8,318.1 2198.8,319.6 2190.8,321.2 2182.8,322.8 2174.8,324.4 2166.8,326.0 2158.8,327.6 2150.8,329.2 2142.8,330.8 2134.8,332.3 2126.8,333.9 2118.8,335.6 2110.8,337.2 2102.8,338.8 2094.8,340.4 2086.8,342.0 2078.8,343.6 2070.8,345.2 2062.8,346.8 2054.8,348.4 2046.8,350.1 2038.8,351.7 2030.8,353.3 2022.8,355.0 2014.8,356.6 2006.8,358.2 1998.8,359.9 1990.8,361.5 1982.8,363.1 1974.8,364.8 1966.8,366.4 1958.8,368.1 1950.8,369.7 1942.8,371.4 1934.8,373.0 1926.8,374.7 1918.8,376.3 1910.8,378.0 1902.8,379.7 1894.8,381.3 1886.8,383.0 1878.8,384.7 1870.8,386.4 1862.8,388.1 1854.8,389.7 1846.8,391.4 1838.8,393.1 1830.8,394.8 1822.8,396.5 1814.8,398.2 1806.8,399.9 1798.8,401.6 1790.8,403.3 1782.8,405.0 1774.8,406.7 1766.8,408.4 1758.8,410.1 1750.8,411.8 1742.8,413.5 1734.8,415.3 1726.8,417.0 1718.8,418.7 1710.8,420.4 1702.8,422.1 1694.8,423.8 1686.8,425.6 1678.8,427.3 1670.8,429.0 1662.8,430.7 1654.8,432.4 1646.8,434.2 1638.8,435.9 1630.8,437.6 1622.8,439.3 1614.8,441.1 1606.8,442.8 1598.8,444.5 1590.8,446.3 1582.8,448.0 1574.8,449.7 1566.8,451.5 1558.8,453.2 1550.8,455.0 1542.8,456.7 1534.8,458.5 1526.8,460.2 1518.8,462.0 1510.8,463.8 1502.8,465.5 1494.8,467.3 1486.8,469.1 1478.8,470.9 1470.8,472.7 1462.8,474.5 1454.8,476.3 1446.8,478.1 1438.8,480.0 1430.8,481.8 1422.8,483.6 1414.8,485.5 1406.8,487.3 1398.8,489.1 1390.8,491.0 1382.8,492.9 1374.8,494.7 1366.8,496.6 1358.8,498.5 1350.8,500.3 1342.8,502.2 1334.8,504.1 1326.8,506.0 1318.8,507.9 1310.8,509.8 1302.8,511.7 1294.8,513.6 1286.8,515.5 1278.8,517.4 1270.8,519.4 1262.8,521.3 1254.8,523.2 1246.8,525.2 1238.8,527.1 1230.8,529.1 1222.8,531.0 1214.8,533.0 1206.8,534.9 1198.8,536.9 1190.8,538.9 1182.8,540.8 1174.8,542.8 1166.8,544.8 1158.8,546.8 1150.8,548.8 1142.8,550.8 1134.8,552.8 1126.8,554.8 1118.8,556.8 1110.8,558.8 1102.8,560.8 1094.8,562.9 1086.8,564.9 1078.8,567.0 1070.8,569.0 1062.8,571.1 1054.8,573.1 1046.8,575.2 1038.8,577.3 1030.8,579.4 1022.8,581.5 1014.8,583.6 1006.8,585.7 998.8,587.8 990.8,589.9 982.8,592.0 974.8,594.1 966.8,596.3 958.8,598.4 950.8,600.6 942.8,602.7 934.8,604.9 926.8,607.1 918.8,609.2 910.8,611.4 902.8,613.6 894.8,615.8 886.8,618.0 878.8,620.2 870.8,622.5 862.8,624.7 854.8,626.9 846.8,629.2 838.8,631.4 830.8,633.7 822.8,636.0 814.8,638.2 806.8,640.5 798.8,642.8 790.8,645.1 782.8,647.4 774.8,649.8 766.8,652.1 758.8,654.5 750.8,656.8 742.8,659.2 734.8,661.6 726.8,664.0 718.8,666.4 710.8,668.8 702.8,671.3 694.8,673.7 686.8,676.2 678.8,678.6 670.8,681.1 662.8,683.6 654.8,686.2 646.8,688.7 638.8,691.2 630.8,693.8 622.8,696.4 614.8,699.0 606.8,701.6 598.8,704.2 590.8,706.9 582.8,709.5 574.8,712.2 566.8,714.9 558.8,717.6 550.8,720.3 542.8,723.1 534.8,725.8 526.8,728.6 518.8,731.4 510.8,734.3 502.8,737.1 494.8,740.0 486.8,743.0 478.8,745.9 470.8,748.9 462.8,752.0 454.8,755.0 446.8,758.1 438.8,761.2 430.8,764.4 422.8,767.5 414.8,770.7 406.8,773.9 398.8,777.1 390.8,780.3 385.6,782.4 384.8,784.9 384.0,785.3 378.0,787.7 372.0,790.1 366.0,792.6 360.0,795.0 354.0,797.5 348.0,799.9 342.0,802.4 336.0,804.9 330.0,807.4 324.0,810.0 318.0,812.5 312.0,815.1 306.0,817.7 300.0,820.3 294.0,822.9 288.0,825.6 282.0,828.3 276.0,831.0 270.0,833.8 264.0,836.6 258.0,839.4 252.0,842.3 246.0,845.2 240.0,848.2 234.0,851.1 228.0,854.2 222.0,857.2 216.0,860.3 210.0,863.5 204.0,866.6 198.0,869.8 192.0,873.0 186.0,876.3 180.0,879.6 174.0,882.9 168.0,886.3 162.0,889.7 156.0,893.1 150.0,896.5 144.0,900.0 138.0,903.5 132.0,907.0 126.0,910.6 120.0,914.2 114.0,917.9 108.0,921.7 102.0,925.4 96.0,929.2 90.0,933.1 84.0,937.0 78.0,941.0 72.0,945.1 66.0,949.1 60.0,953.3 54.0,957.5 48.0,961.8 42.0,966.1 36.0,970.5 30.0,975.0 24.0,979.5 18.0,984.1 12.0,988.8 6.0,993.6 0.0,998.4" fill="rgba(255,235,59,0.33)"/>
<polygon points="0.0,998.4 6.0,993.6 12.0,988.8 18.0,984.1 24.0,979.5 30.0,975.0 36.0,970.5 42.0,966.1 48.0,961.8 54.0,957.5 60.0,953.3 66.0,949.1 72.0,945.1 78.0,941.0 84.0,937.0 90.0,933.1 96.0,929.2 102.0,925.4 108.0,921.7 114.0,917.9 120.0,914.2 126.0,910.6 132.0,907.0 138.0,903.5 144.0,900.0 150.0,896.5 156.0,893.1 162.0,889.7 168.0,886.3 174.0,882.9 180.0,879.6 186.0,876.3 192.0,873.0 198.0,869.8 204.0,866.6 210.0,863.5 216.0,860.3 222.0,857.2 228.0,854.2 234.0,851.1 240.0,848.2 246.0,845.2 252.0,842.3 258.0,839.4 264.0,836.6 270.0,833.8 276.0,831.0 282.0,828.3 288.0,825.6 294.0,822.9 300.0,820.3 306.0,817.7 312.0,815.1 318.0,812.5 324.0,810.0 330.0,807.4 336.0,804.9 342.0,802.4 348.0,799.9 354.0,797.5 360.0,795.0 366.0,792.6 372.0,790.1 378.0,787.7 384.0,785.3 384.8,784.9 385.6,782.4 390.8,780.3 398.8,777.1 406.8,773.9 414.8,770.7 422.8,767.5 430.8,764.4 438.8,761.2 446.8,758.1 454.8,755.0 462.8,752.0 470.8,748.9 478.8,745.9 486.8,743.0 494.8,740.0 502.8,737.1 510.8,734.3 518.8,731.4 526.8,728.6 534.8,725.8 542.8,723.1 550.8,720.3 558.8,717.6 566.8,714.9 574.8,712.2 582.8,709.5 590.8,706.9 598.8,704.2 606.8,701.6 614.8,699.0 622.8,696.4 630.8,693.8 638.8,691.2 646.8,688.7 654.8,686.2 662.8,683.6 670.8,681.1 678.8,678.6 686.8,676.2 694.8,673.7 702.8,671.3 710.8,668.8 718.8,666.4 726.8,664.0 734.8,661.6 742.8,659.2 750.8,656.8 758.8,654.5 766.8,652.1 774.8,649.8 782.8,647.4 790.8,645.1 798.8,642.8 806.8,640.5 814.8,638.2 822.8,636.0 830.8,633.7 838.8,631.4 846.8,629.2 854.8,626.9 862.8,624.7 870.8,622.5 878.8,620.2 886.8,618.0 894.8,615.8 902.8,613.6 910.8,611.4 918.8,609.2 926.8,607.1 934.8,604.9 942.8,602.7 950.8,600.6 958.8,598.4 966.8,596.3 974.8,594.1 982.8,592.0 990.8,589.9 998.8,587.8 1006.8,585.7 1014.8,583.6 1022.8,581.5 1030.8,579.4 1038.8,577.3 1046.8,575.2 1054.8,573.1 1062.8,571.1 1070.8,569.0 1078.8,567.0 1086.8,564.9 1094.8,562.9 1102.8,560.8 1110.8,558.8 1118.8,556.8 1126.8,554.8 1134.8,552.8 1142.8,550.8 1150.8,548.8 1158.8,546.8 1166.8,544.8 1174.8,542.8 1182.8,540.8 1190.8,538.9 1198.8,536.9 1206.8,534.9 1214.8,533.0 1222.8,531.0 1230.8,529.1 1238.8,527.1 1246.8,525.2 1254.8,523.2 1262.8,521.3 1270.8,519.4 1278.8,517.4 1286.8,515.5 1294.8,513.6 1302.8,511.7 1310.8,509.8 1318.8,507.9 1326.8,506.0 1334.8,504.1 1342.8,502.2 1350.8,500.3 1358.8,498.5 1366.8,496.6 1374.8,494.7 1382.8,492.9 1390.8,491.0 1398.8,489.1 1406.8,487.3 1414.8,485.5 1422.8,483.6 1430.8,481.8 1438.8,480.0 1446.8,478.1 1454.8,476.3 1462.8,474.5 1470.8,472.7 1478.8,470.9 1486.8,469.1 1494.8,467.3 1502.8,465.5 1510.8,463.8 1518.8,462.0 1526.8,460.2 1534.8,458.5 1542.8,456.7 1550.8,455.0 1558.8,453.2 1566.8,451.5 1574.8,449.7 1582.8,448.0 1590.8,446.3 1598.8,444.5 1606.8,442.8 1614.8,441.1 1622.8,439.3 1630.8,437.6 1638.8,435.9 1646.8,434.2 1654.8,432.4 1662.8,430.7 1670.8,429.0 1678.8,427.3 1686.8,425.6 1694.8,423.8 1702.8,422.1 1710.8,420.4 1718.8,418.7 1726.8,417.0 1734.8,415.3 1742.8,413.5 1750.8,411.8 1758.8,410.1 1766.8,408.4 1774.8,406.7 1782.8,405.0 1790.8,403.3 1798.8,401.6 1806.8,399.9 1814.8,398.2 1822.8,396.5 1830.8,394.8 1838.8,393.1 1846.8,391.4 1854.8,389.7 1862.8,388.1 1870.8,386.4 1878.8,384.7 1886.8,383.0 1894.8,381.3 1902.8,379.7 1910.8,378.0 1918.8,376.3 1926.8,374.7 1934.8,373.0 1942.8,371.4 1950.8,369.7 1958.8,368.1 1966.8,366.4 1974.8,364.8 1982.8,363.1 1990.8,361.5 1998.8,359.9 2006.8,358.2 2014.8,356.6 2022.8,355.0 2030.8,353.3 2038.8,351.7 2046.8,350.1 2054.8,348.4 2062.8,346.8 2070.8,345.2 2078.8,343.6 2086.8,342.0 2094.8,340.4 2102.8,338.8 2110.8,337.2 2118.8,335.6 2126.8,333.9 2134.8,332.3 2142.8,330.8 2150.8,329.2 2158.8,327.6 2166.8,326.0 2174.8,324.4 2182.8,322.8 2190.8,321.2 2198.8,319.6 2206.8,318.1 2214.8,316.5 2222.8,314.9 2230.8,313.3 2238.8,311.8 2246.8,310.2 2254.8,308.7 2262.8,307.1 2270.8,305.6 2278.8,304.0 2286.8,302.5 2294.8,300.9 2302.8,299.4 2310.8,297.8 2318.8,296.3 2326.8,294.8 2334.8,293.2 2342.8,291.7 2350.8,290.2 2358.8,288.7 2366.8,287.1 2374.8,285.6 2382.8,284.1 2390.8,282.6 2398.8,281.1 2406.8,279.5 2414.8,278.0 2422.8,276.5 2430.8,275.0 2438.8,273.5 2446.8,272.0 2454.8,270.4 2462.8,268.9 2470.8,267.4 2478.8,265.9 2486.8,264.4 2494.8,262.9 2502.8,261.3 2510.8,259.8 2518.8,258.3 2526.8,256.8 2534.8,255.3 2542.8,253.8 2550.8,252.3 2558.8,250.8 2566.8,249.3 2574.8,247.8 2582.8,246.3 2590.8,244.8 2598.8,243.3 2606.8,241.8 2614.8,240.3 2622.8,238.8 2630.8,237.3 2638.8,235.8 2646.8,234.3 2654.8,232.8 2662.8,231.3 2670.8,229.9 2678.8,228.4 2686.8,226.9 2694.8,225.4 2702.8,223.9 2710.8,222.4 2718.8,220.9 2726.8,219.5 2729.8,218.9 2729.8,227.0 2726.8,227.5 2718.8,229.0 2710.8,230.5 2702.8,232.0 2694.8,233.5 2686.8,235.0 2678.8,236.6 2670.8,238.1 2662.8,239.6 2654.8,241.1 2646.8,242.6 2638.8,244.1 2630.8,245.6 2622.8,247.1 2614.8,248.6 2606.8,250.1 2598.8,251.6 2590.8,253.1 2582.8,254.6 2574.8,256.2 2566.8,257.7 2558.8,259.2 2550.8,260.7 2542.8,262.2 2534.8,263.8 2526.8,265.3 2518.8,266.8 2510.8,268.3 2502.8,269.9 2494.8,271.4 2486.8,272.9 2478.8,274.5 2470.8,276.0 2462.8,277.5 2454.8,279.0 2446.8,280.6 2438.8,282.1 2430.8,283.6 2422.8,285.2 2414.8,286.7 2406.8,288.2 2398.8,289.8 2390.8,291.3 2382.8,292.8 2374.8,294.4 2366.8,295.9 2358.8,297.4 2350.8,299.0 2342.8,300.5 2334.8,302.1 2326.8,303.6 2318.8,305.2 2310.8,306.7 2302.8,308.3 2294.8,309.8 2286.8,311.4 2278.8,312.9 2270.8,314.5 2262.8,316.1 2254.8,317.6 2246.8,319.2 2238.8,320.8 2230.8,322.4 2222.8,324.0 2214.8,325.5 2206.8,327.1 2198.8,328.7 2190.8,330.3 2182.8,331.9 2174.8,333.5 2166.8,335.1 2158.8,336.7 2150.8,338.3 2142.8,339.9 2134.8,341.6 2126.8,343.2 2118.8,344.8 2110.8,346.4 2102.8,348.0 2094.8,349.7 2086.8,351.3 2078.8,352.9 2070.8,354.5 2062.8,356.2 2054.8,357.8 2046.8,359.4 2038.8,361.1 2030.8,362.7 2022.8,364.4 2014.8,366.0 2006.8,367.7 1998.8,369.3 1990.8,371.0 1982.8,372.6 1974.8,374.3 1966.8,375.9 1958.8,377.6 1950.8,379.3 1942.8,380.9 1934.8,382.6 1926.8,384.3 1918.8,386.0 1910.8,387.6 1902.8,389.3 1894.8,391.0 1886.8,392.7 1878.8,394.4 1870.8,396.1 1862.8,397.8 1854.8,399.5 1846.8,401.2 1838.8,402.9 1830.8,404.6 1822.8,406.3 1814.8,408.0 1806.8,409.7 1798.8,411.4 1790.8,413.1 1782.8,414.9 1774.8,416.6 1766.8,418.3 1758.8,420.0 1750.8,421.8 1742.8,423.5 1734.8,425.2 1726.8,426.9 1718.8,428.7 1710.8,430.4 1702.8,432.1 1694.8,433.9 1686.8,435.6 1678.8,437.3 1670.8,439.1 1662.8,440.8 1654.8,442.5 1646.8,444.3 1638.8,446.0 1630.8,447.8 1622.8,449.5 1614.8,451.2 1606.8,453.0 1598.8,454.7 1590.8,456.5 1582.8,458.2 1574.8,460.0 1566.8,461.7 1558.8,463.5 1550.8,465.3 1542.8,467.0 1534.8,468.8 1526.8,470.6 1518.8,472.4 1510.8,474.1 1502.8,475.9 1494.8,477.7 1486.8,479.5 1478.8,481.3 1470.8,483.2 1462.8,485.0 1454.8,486.8 1446.8,488.6 1438.8,490.5 1430.8,492.3 1422.8,494.2 1414.8,496.0 1406.8,497.9 1398.8,499.7 1390.8,501.6 1382.8,503.5 1374.8,505.4 1366.8,507.2 1358.8,509.1 1350.8,511.0 1342.8,512.9 1334.8,514.8 1326.8,516.7 1318.8,518.6 1310.8,520.5 1302.8,522.5 1294.8,524.4 1286.8,526.3 1278.8,528.3 1270.8,530.2 1262.8,532.1 1254.8,534.1 1246.8,536.0 1238.8,538.0 1230.8,540.0 1222.8,541.9 1214.8,543.9 1206.8,545.9 1198.8,547.8 1190.8,549.8 1182.8,551.8 1174.8,553.8 1166.8,555.8 1158.8,557.8 1150.8,559.8 1142.8,561.8 1134.8,563.9 1126.8,565.9 1118.8,567.9 1110.8,569.9 1102.8,572.0 1094.8,574.0 1086.8,576.1 1078.8,578.2 1070.8,580.2 1062.8,582.3 1054.8,584.4 1046.8,586.5 1038.8,588.5 1030.8,590.6 1022.8,592.7 1014.8,594.9 1006.8,597.0 998.8,599.1 990.8,601.2 982.8,603.4 974.8,605.5 966.8,607.7 958.8,609.8 950.8,612.0 942.8,614.2 934.8,616.3 926.8,618.5 918.8,620.7 910.8,622.9 902.8,625.1 894.8,627.3 886.8,629.6 878.8,631.8 870.8,634.0 862.8,636.3 854.8,638.5 846.8,640.8 838.8,643.1 830.8,645.3 822.8,647.6 814.8,649.9 806.8,652.2 798.8,654.5 790.8,656.9 782.8,659.2 774.8,661.5 766.8,663.9 758.8,666.3 750.8,668.6 742.8,671.0 734.8,673.4 726.8,675.8 718.8,678.3 710.8,680.7 702.8,683.1 694.8,685.6 686.8,688.1 678.8,690.6 670.8,693.1 662.8,695.6 654.8,698.1 646.8,700.7 638.8,703.3 630.8,705.8 622.8,708.4 614.8,711.0 606.8,713.7 598.8,716.3 590.8,719.0 582.8,721.6 574.8,724.3 566.8,727.0 558.8,729.8 550.8,732.5 542.8,735.3 534.8,738.0 526.8,740.9 518.8,743.7 510.8,746.5 502.8,749.4 494.8,752.3 486.8,755.3 478.8,758.2 470.8,761.3 462.8,764.3 454.8,767.4 446.8,770.5 438.8,773.6 430.8,776.8 422.8,779.9 414.8,783.1 406.8,786.3 398.8,789.6 390.8,792.8 385.6,794.9 384.8,797.4 384.0,797.7 378.0,800.2 372.0,802.6 366.0,805.1 360.0,807.5 354.0,810.0 348.0,812.5 342.0,815.0 336.0,817.5 330.0,820.0 324.0,822.6 318.0,825.1 312.0,827.7 306.0,830.3 300.0,832.9 294.0,835.6 288.0,838.3 282.0,841.0 276.0,843.7 270.0,846.5 264.0,849.3 258.0,852.1 252.0,855.0 246.0,858.0 240.0,860.9 234.0,863.9 228.0,866.9 222.0,870.0 216.0,873.1 210.0,876.3 204.0,879.4 198.0,882.7 192.0,885.9 186.0,889.2 180.0,892.5 174.0,895.8 168.0,899.2 162.0,902.6 156.0,906.0 150.0,909.4 144.0,912.9 138.0,916.4 132.0,920.0 126.0,923.6 120.0,927.2 114.0,930.9 108.0,934.7 102.0,938.4 96.0,942.3 90.0,946.2 84.0,950.1 78.0,954.1 72.0,958.1 66.0,962.2 60.0,966.4 54.0,970.6 48.0,974.9 42.0,979.2 36.0,983.6 30.0,988.1 24.0,992.7 18.0,997.3 12.0,1002.0 6.0,1006.8 0.0,1011.6" fill="rgba(255,82,82,0.30)"/>
<polygon points="0.0,1011.6 6.0,1006.8 12.0,1002.0 18.0,997.3 24.0,992.7 30.0,988.1 36.0,983.6 42.0,979.2 48.0,974.9 54.0,970.6 60.0,966.4 66.0,962.2 72.0,958.1 78.0,954.1 84.0,950.1 90.0,946.2 96.0,942.3 102.0,938.4 108.0,934.7 114.0,930.9 120.0,927.2 126.0,923.6 132.0,920.0 138.0,916.4 144.0,912.9 150.0,909.4 156.0,906.0 162.0,902.6 168.0,899.2 174.0,895.8 180.0,892.5 186.0,889.2 192.0,885.9 198.0,882.7 204.0,879.4 210.0,876.3 216.0,873.1 222.0,870.0 228.0,866.9 234.0,863.9 240.0,860.9 246.0,858.0 252.0,855.0 258.0,852.1 264.0,849.3 270.0,846.5 276.0,843.7 282.0,841.0 288.0,838.3 294.0,835.6 300.0,832.9 306.0,830.3 312.0,827.7 318.0,825.1 324.0,822.6 330.0,820.0 336.0,817.5 342.0,815.0 348.0,812.5 354.0,810.0 360.0,807.5 366.0,805.1 372.0,802.6 378.0,800.2 384.0,797.7 384.8,797.4 385.6,794.9 390.8,792.8 398.8,789.6 406.8,786.3 414.8,783.1 422.8,779.9 430.8,776.8 438.8,773.6 446.8,770.5 454.8,767.4 462.8,764.3 470.8,761.3 478.8,758.2 486.8,755.3 494.8,752.3 502.8,749.4 510.8,746.5 518.8,743.7 526.8,740.9 534.8,738.0 542.8,735.3 550.8,732.5 558.8,729.8 566.8,727.0 574.8,724.3 582.8,721.6 590.8,719.0 598.8,716.3 606.8,713.7 614.8,711.0 622.8,708.4 630.8,705.8 638.8,703.3 646.8,700.7 654.8,698.1 662.8,695.6 670.8,693.1 678.8,690.6 686.8,688.1 694.8,685.6 702.8,683.1 710.8,680.7 718.8,678.3 726.8,675.8 734.8,673.4 742.8,671.0 750.8,668.6 758.8,666.3 766.8,663.9 774.8,661.5 782.8,659.2 790.8,656.9 798.8,654.5 806.8,652.2 814.8,649.9 822.8,647.6 830.8,645.3 838.8,643.1 846.8,640.8 854.8,638.5 862.8,636.3 870.8,634.0 878.8,631.8 886.8,629.6 894.8,627.3 902.8,625.1 910.8,622.9 918.8,620.7 926.8,618.5 934.8,616.3 942.8,614.2 950.8,612.0 958.8,609.8 966.8,607.7 974.8,605.5 982.8,603.4 990.8,601.2 998.8,599.1 1006.8,597.0 1014.8,594.9 1022.8,592.7 1030.8,590.6 1038.8,588.5 1046.8,586.5 1054.8,584.4 1062.8,582.3 1070.8,580.2 1078.8,578.2 1086.8,576.1 1094.8,574.0 1102.8,572.0 1110.8,569.9 1118.8,567.9 1126.8,565.9 1134.8,563.9 1142.8,561.8 1150.8,559.8 1158.8,557.8 1166.8,555.8 1174.8,553.8 1182.8,551.8 1190.8,549.8 1198.8,547.8 1206.8,545.9 1214.8,543.9 1222.8,541.9 1230.8,540.0 1238.8,538.0 1246.8,536.0 1254.8,534.1 1262.8,532.1 1270.8,530.2 1278.8,528.3 1286.8,526.3 1294.8,524.4 1302.8,522.5 1310.8,520.5 1318.8,518.6 1326.8,516.7 1334.8,514.8 1342.8,512.9 1350.8,511.0 1358.8,509.1 1366.8,507.2 1374.8,505.4 1382.8,503.5 1390.8,501.6 1398.8,499.7 1406.8,497.9 1414.8,496.0 1422.8,494.2 1430.8,492.3 1438.8,490.5 1446.8,488.6 1454.8,486.8 1462.8,485.0 1470.8,483.2 1478.8,481.3 1486.8,479.5 1494.8,477.7 1502.8,475.9 1510.8,474.1 1518.8,472.4 1526.8,470.6 1534.8,468.8 1542.8,467.0 1550.8,465.3 1558.8,463.5 1566.8,461.7 1574.8,460.0 1582.8,458.2 1590.8,456.5 1598.8,454.7 1606.8,453.0 1614.8,451.2 1622.8,449.5 1630.8,447.8 1638.8,446.0 1646.8,444.3 1654.8,442.5 1662.8,440.8 1670.8,439.1 1678.8,437.3 1686.8,435.6 1694.8,433.9 1702.8,432.1 1710.8,430.4 1718.8,428.7 1726.8,426.9 1734.8,425.2 1742.8,423.5 1750.8,421.8 1758.8,420.0 1766.8,418.3 1774.8,416.6 1782.8,414.9 1790.8,413.1 1798.8,411.4 1806.8,409.7 1814.8,408.0 1822.8,406.3 1830.8,404.6 1838.8,402.9 1846.8,401.2 1854.8,399.5 1862.8,397.8 1870.8,396.1 1878.8,394.4 1886.8,392.7 1894.8,391.0 1902.8,389.3 1910.8,387.6 1918.8,386.0 1926.8,384.3 1934.8,382.6 1942.8,380.9 1950.8,379.3 1958.8,377.6 1966.8,375.9 1974.8,374.3 1982.8,372.6 1990.8,371.0 1998.8,369.3 2006.8,367.7 2014.8,366.0 2022.8,364.4 2030.8,362.7 2038.8,361.1 2046.8,359.4 2054.8,357.8 2062.8,356.2 2070.8,354.5 2078.8,352.9 2086.8,351.3 2094.8,349.7 2102.8,348.0 2110.8,346.4 2118.8,344.8 2126.8,343.2 2134.8,341.6 2142.8,339.9 2150.8,338.3 2158.8,336.7 2166.8,335.1 2174.8,333.5 2182.8,331.9 2190.8,330.3 2198.8,328.7 2206.8,327.1 2214.8,325.5 2222.8,324.0 2230.8,322.4 2238.8,320.8 2246.8,319.2 2254.8,317.6 2262.8,316.1 2270.8,314.5 2278.8,312.9 2286.8,311.4 2294.8,309.8 2302.8,308.3 2310.8,306.7 2318.8,305.2 2326.8,303.6 2334.8,302.1 2342.8,300.5 2350.8,299.0 2358.8,297.4 2366.8,295.9 2374.8,294.4 2382.8,292.8 2390.8,291.3 2398.8,289.8 2406.8,288.2 2414.8,286.7 2422.8,285.2 2430.8,283.6 2438.8,282.1 2446.8,280.6 2454.8,279.0 2462.8,277.5 2470.8,276.0 2478.8,274.5 2486.8,272.9 2494.8,271.4 2502.8,269.9 2510.8,268.3 2518.8,266.8 2526.8,265.3 2534.8,263.8 2542.8,262.2 2550.8,260.7 2558.8,259.2 2566.8,257.7 2574.8,256.2 2582.8,254.6 2590.8,253.1 2598.8,251.6 2606.8,250.1 2614.8,248.6 2622.8,247.1 2630.8,245.6 2638.8,244.1 2646.8,242.6 2654.8,241.1 2662.8,239.6 2670.8,238.1 2678.8,236.6 2686.8,235.0 2694.8,233.5 2702.8,232.0 2710.8,230.5 2718.8,229.0 2726.8,227.5 2729.8,227.0 2729.8,235.7 2726.8,236.2 2718.8,237.8 2710.8,239.3 2702.8,240.8 2694.8,242.3 2686.8,243.8 2678.8,245.4 2670.8,246.9 2662.8,248.4 2654.8,249.9 2646.8,251.5 2638.8,253.0 2630.8,254.5 2622.8,256.1 2614.8,257.6 2606.8,259.1 2598.8,260.7 2590.8,262.2 2582.8,263.7 2574.8,265.3 2566.8,266.8 2558.8,268.3 2550.8,269.9 2542.8,271.4 2534.8,273.0 2526.8,274.5 2518.8,276.1 2510.8,277.6 2502.8,279.2 2494.8,280.7 2486.8,282.3 2478.8,283.8 2470.8,285.4 2462.8,286.9 2454.8,288.5 2446.8,290.0 2438.8,291.6 2430.8,293.1 2422.8,294.7 2414.8,296.2 2406.8,297.8 2398.8,299.3 2390.8,300.9 2382.8,302.5 2374.8,304.0 2366.8,305.6 2358.8,307.1 2350.8,308.7 2342.8,310.3 2334.8,311.8 2326.8,313.4 2318.8,315.0 2310.8,316.5 2302.8,318.1 2294.8,319.7 2286.8,321.3 2278.8,322.8 2270.8,324.4 2262.8,326.0 2254.8,327.6 2246.8,329.2 2238.8,330.8 2230.8,332.4 2222.8,334.0 2214.8,335.6 2206.8,337.2 2198.8,338.8 2190.8,340.5 2182.8,342.1 2174.8,343.7 2166.8,345.3 2158.8,347.0 2150.8,348.6 2142.8,350.2 2134.8,351.9 2126.8,353.5 2118.8,355.1 2110.8,356.8 2102.8,358.4 2094.8,360.1 2086.8,361.7 2078.8,363.4 2070.8,365.0 2062.8,366.7 2054.8,368.3 2046.8,370.0 2038.8,371.6 2030.8,373.3 2022.8,375.0 2014.8,376.6 2006.8,378.3 1998.8,380.0 1990.8,381.7 1982.8,383.3 1974.8,385.0 1966.8,386.7 1958.8,388.4 1950.8,390.1 1942.8,391.7 1934.8,393.4 1926.8,395.1 1918.8,396.8 1910.8,398.5 1902.8,400.2 1894.8,401.9 1886.8,403.7 1878.8,405.4 1870.8,407.1 1862.8,408.8 1854.8,410.5 1846.8,412.2 1838.8,414.0 1830.8,415.7 1822.8,417.4 1814.8,419.2 1806.8,420.9 1798.8,422.6 1790.8,424.4 1782.8,426.1 1774.8,427.9 1766.8,429.6 1758.8,431.3 1750.8,433.1 1742.8,434.8 1734.8,436.6 1726.8,438.3 1718.8,440.1 1710.8,441.9 1702.8,443.6 1694.8,445.4 1686.8,447.1 1678.8,448.9 1670.8,450.6 1662.8,452.4 1654.8,454.2 1646.8,455.9 1638.8,457.7 1630.8,459.4 1622.8,461.2 1614.8,463.0 1606.8,464.7 1598.8,466.5 1590.8,468.3 1582.8,470.0 1574.8,471.8 1566.8,473.6 1558.8,475.4 1550.8,477.1 1542.8,478.9 1534.8,480.7 1526.8,482.5 1518.8,484.3 1510.8,486.1 1502.8,488.0 1494.8,489.8 1486.8,491.6 1478.8,493.4 1470.8,495.3 1462.8,497.1 1454.8,498.9 1446.8,500.8 1438.8,502.7 1430.8,504.5 1422.8,506.4 1414.8,508.3 1406.8,510.1 1398.8,512.0 1390.8,513.9 1382.8,515.8 1374.8,517.7 1366.8,519.6 1358.8,521.5 1350.8,523.4 1342.8,525.4 1334.8,527.3 1326.8,529.2 1318.8,531.1 1310.8,533.1 1302.8,535.0 1294.8,537.0 1286.8,538.9 1278.8,540.9 1270.8,542.8 1262.8,544.8 1254.8,546.8 1246.8,548.7 1238.8,550.7 1230.8,552.7 1222.8,554.7 1214.8,556.7 1206.8,558.7 1198.8,560.7 1190.8,562.7 1182.8,564.7 1174.8,566.7 1166.8,568.7 1158.8,570.8 1150.8,572.8 1142.8,574.8 1134.8,576.9 1126.8,578.9 1118.8,581.0 1110.8,583.0 1102.8,585.1 1094.8,587.2 1086.8,589.2 1078.8,591.3 1070.8,593.4 1062.8,595.5 1054.8,597.6 1046.8,599.7 1038.8,601.8 1030.8,603.9 1022.8,606.1 1014.8,608.2 1006.8,610.3 998.8,612.5 990.8,614.6 982.8,616.8 974.8,619.0 966.8,621.1 958.8,623.3 950.8,625.5 942.8,627.7 934.8,629.9 926.8,632.1 918.8,634.3 910.8,636.5 902.8,638.8 894.8,641.0 886.8,643.3 878.8,645.5 870.8,647.8 862.8,650.0 854.8,652.3 846.8,654.6 838.8,656.9 830.8,659.2 822.8,661.5 814.8,663.8 806.8,666.1 798.8,668.5 790.8,670.8 782.8,673.2 774.8,675.5 766.8,677.9 758.8,680.3 750.8,682.7 742.8,685.1 734.8,687.5 726.8,690.0 718.8,692.4 710.8,694.9 702.8,697.3 694.8,699.8 686.8,702.3 678.8,704.8 670.8,707.4 662.8,709.9 654.8,712.5 646.8,715.0 638.8,717.6 630.8,720.2 622.8,722.8 614.8,725.5 606.8,728.1 598.8,730.8 590.8,733.4 582.8,736.1 574.8,738.9 566.8,741.6 558.8,744.3 550.8,747.1 542.8,749.9 534.8,752.7 526.8,755.5 518.8,758.4 510.8,761.2 502.8,764.1 494.8,767.1 486.8,770.0 478.8,773.0 470.8,776.1 462.8,779.1 454.8,782.2 446.8,785.4 438.8,788.5 430.8,791.7 422.8,794.9 414.8,798.1 406.8,801.3 398.8,804.6 390.8,807.8 385.6,809.9 384.8,812.5 384.0,812.8 378.0,815.2 372.0,817.7 366.0,820.2 360.0,822.6 354.0,825.1 348.0,827.6 342.0,830.1 336.0,832.7 330.0,835.2 324.0,837.8 318.0,840.3 312.0,842.9 306.0,845.6 300.0,848.2 294.0,850.9 288.0,853.6 282.0,856.3 276.0,859.1 270.0,861.9 264.0,864.7 258.0,867.5 252.0,870.4 246.0,873.4 240.0,876.4 234.0,879.4 228.0,882.4 222.0,885.5 216.0,888.6 210.0,891.8 204.0,895.0 198.0,898.2 192.0,901.5 186.0,904.8 180.0,908.1 174.0,911.4 168.0,914.8 162.0,918.2 156.0,921.7 150.0,925.1 144.0,928.6 138.0,932.2 132.0,935.7 126.0,939.3 120.0,943.0 114.0,946.7 108.0,950.5 102.0,954.3 96.0,958.1 90.0,962.0 84.0,966.0 78.0,970.0 72.0,974.0 66.0,978.1 60.0,982.3 54.0,986.6 48.0,990.9 42.0,995.2 36.0,999.6 30.0,1004.1 24.0,1008.7 18.0,1013.3 12.0,1018.1 6.0,1022.9 0.0,1027.7" fill="rgba(255,82,82,0.19)"/>
<polyline points="0.0,987.2 6.0,982.3 12.0,977.6 18.0,972.9 24.0,968.3 30.0,963.7 36.0,959.3 42.0,954.9 48.0,950.6 54.0,946.3 60.0,942.1 66.0,938.0 72.0,933.9 78.0,929.9 84.0,925.9 90.0,922.0 96.0,918.1 102.0,914.3 108.0,910.5 114.0,906.8 120.0,903.2 126.0,899.5 132.0,896.0 138.0,892.4 144.0,888.9 150.0,885.5 156.0,882.0 162.0,878.6 168.0,875.3 174.0,871.9 180.0,868.6 186.0,865.3 192.0,862.1 198.0,858.8 204.0,855.7 210.0,852.5 216.0,849.4 222.0,846.3 228.0,843.2 234.0,840.2 240.0,837.3 246.0,834.3 252.0,831.4 258.0,828.6 264.0,825.7 270.0,822.9 276.0,820.2 282.0,817.5 288.0,814.8 294.0,812.1 300.0,809.5 306.0,806.9 312.0,804.3 318.0,801.7 324.0,799.2 330.0,796.7 336.0,794.2 342.0,791.7 348.0,789.2 354.0,786.7 360.0,784.3 366.0,781.9 372.0,779.4 378.0,777.0 384.0,774.6 384.8,774.3 385.6,771.7 390.8,769.7 398.8,766.4 406.8,763.3 414.8,760.1 422.8,756.9 430.8,753.8 438.8,750.6 446.8,747.5 454.8,744.5 462.8,741.4 470.8,738.4 478.8,735.4 486.8,732.5 494.8,729.5 502.8,726.6 510.8,723.8 518.8,721.0 526.8,718.2 534.8,715.4 542.8,712.6 550.8,709.9 558.8,707.2 566.8,704.5 574.8,701.8 582.8,699.1 590.8,696.5 598.8,693.9 606.8,691.3 614.8,688.7 622.8,686.1 630.8,683.5 638.8,681.0 646.8,678.4 654.8,675.9 662.8,673.4 670.8,670.9 678.8,668.4 686.8,666.0 694.8,663.5 702.8,661.1 710.8,658.7 718.8,656.2 726.8,653.8 734.8,651.5 742.8,649.1 750.8,646.7 758.8,644.4 766.8,642.0 774.8,639.7 782.8,637.4 790.8,635.1 798.8,632.8 806.8,630.5 814.8,628.2 822.8,626.0 830.8,623.7 838.8,621.5 846.8,619.2 854.8,617.0 862.8,614.8 870.8,612.5 878.8,610.3 886.8,608.1 894.8,605.9 902.8,603.8 910.8,601.6 918.8,599.4 926.8,597.2 934.8,595.1 942.8,592.9 950.8,590.8 958.8,588.6 966.8,586.5 974.8,584.4 982.8,582.3 990.8,580.2 998.8,578.1 1006.8,576.0 1014.8,573.9 1022.8,571.8 1030.8,569.7 1038.8,567.6 1046.8,565.6 1054.8,563.5 1062.8,561.5 1070.8,559.4 1078.8,557.4 1086.8,555.3 1094.8,553.3 1102.8,551.3 1110.8,549.3 1118.8,547.3 1126.8,545.3 1134.8,543.3 1142.8,541.3 1150.8,539.3 1158.8,537.3 1166.8,535.3 1174.8,533.4 1182.8,531.4 1190.8,529.4 1198.8,527.5 1206.8,525.5 1214.8,523.6 1222.8,521.6 1230.8,519.7 1238.8,517.8 1246.8,515.8 1254.8,513.9 1262.8,512.0 1270.8,510.1 1278.8,508.2 1286.8,506.3 1294.8,504.4 1302.8,502.5 1310.8,500.6 1318.8,498.7 1326.8,496.8 1334.8,494.9 1342.8,493.1 1350.8,491.2 1358.8,489.3 1366.8,487.5 1374.8,485.6 1382.8,483.8 1390.8,481.9 1398.8,480.1 1406.8,478.2 1414.8,476.4 1422.8,474.6 1430.8,472.7 1438.8,470.9 1446.8,469.1 1454.8,467.3 1462.8,465.5 1470.8,463.7 1478.8,461.9 1486.8,460.2 1494.8,458.4 1502.8,456.6 1510.8,454.9 1518.8,453.1 1526.8,451.4 1534.8,449.6 1542.8,447.9 1550.8,446.1 1558.8,444.4 1566.8,442.7 1574.8,440.9 1582.8,439.2 1590.8,437.5 1598.8,435.8 1606.8,434.0 1614.8,432.3 1622.8,430.6 1630.8,428.9 1638.8,427.2 1646.8,425.5 1654.8,423.8 1662.8,422.1 1670.8,420.3 1678.8,418.6 1686.8,416.9 1694.8,415.2 1702.8,413.5 1710.8,411.8 1718.8,410.1 1726.8,408.4 1734.8,406.7 1742.8,405.0 1750.8,403.3 1758.8,401.6 1766.8,399.9 1774.8,398.2 1782.8,396.5 1790.8,394.8 1798.8,393.1 1806.8,391.4 1814.8,389.8 1822.8,388.1 1830.8,386.4 1838.8,384.7 1846.8,383.0 1854.8,381.4 1862.8,379.7 1870.8,378.0 1878.8,376.4 1886.8,374.7 1894.8,373.0 1902.8,371.4 1910.8,369.7 1918.8,368.1 1926.8,366.4 1934.8,364.8 1942.8,363.1 1950.8,361.5 1958.8,359.9 1966.8,358.2 1974.8,356.6 1982.8,355.0 1990.8,353.3 1998.8,351.7 2006.8,350.1 2014.8,348.5 2022.8,346.8 2030.8,345.2 2038.8,343.6 2046.8,342.0 2054.8,340.4 2062.8,338.8 2070.8,337.2 2078.8,335.6 2086.8,334.0 2094.8,332.4 2102.8,330.8 2110.8,329.2 2118.8,327.6 2126.8,326.0 2134.8,324.4 2142.8,322.8 2150.8,321.3 2158.8,319.7 2166.8,318.1 2174.8,316.5 2182.8,314.9 2190.8,313.4 2198.8,311.8 2206.8,310.2 2214.8,308.7 2222.8,307.1 2230.8,305.6 2238.8,304.0 2246.8,302.5 2254.8,300.9 2262.8,299.4 2270.8,297.8 2278.8,296.3 2286.8,294.8 2294.8,293.2 2302.8,291.7 2310.8,290.2 2318.8,288.7 2326.8,287.1 2334.8,285.6 2342.8,284.1 2350.8,282.6 2358.8,281.1 2366.8,279.6 2374.8,278.1 2382.8,276.6 2390.8,275.0 2398.8,273.5 2406.8,272.0 2414.8,270.5 2422.8,269.0 2430.8,267.5 2438.8,266.0 2446.8,264.5 2454.8,263.0 2462.8,261.5 2470.8,260.0 2478.8,258.5 2486.8,257.0 2494.8,255.5 2502.8,254.0 2510.8,252.5 2518.8,251.0 2526.8,249.5 2534.8,248.0 2542.8,246.5 2550.8,245.0 2558.8,243.5 2566.8,242.0 2574.8,240.5 2582.8,239.1 2590.8,237.6 2598.8,236.1 2606.8,234.6 2614.8,233.1 2622.8,231.6 2630.8,230.2 2638.8,228.7 2646.8,227.2 2654.8,225.7 2662.8,224.2 2670.8,222.8 2678.8,221.3 2686.8,219.8 2694.8,218.3 2702.8,216.9 2710.8,215.4 2718.8,213.9 2726.8,212.5 2729.8,211.9" fill="none" stroke="rgba(255,235,59,0.30)" stroke-width="1.2"/>
<polyline points="0.0,1011.6 6.0,1006.8 12.0,1002.0 18.0,997.3 24.0,992.7 30.0,988.1 36.0,983.6 42.0,979.2 48.0,974.9 54.0,970.6 60.0,966.4 66.0,962.2 72.0,958.1 78.0,954.1 84.0,950.1 90.0,946.2 96.0,942.3 102.0,938.4 108.0,934.7 114.0,930.9 120.0,927.2 126.0,923.6 132.0,920.0 138.0,916.4 144.0,912.9 150.0,909.4 156.0,906.0 162.0,902.6 168.0,899.2 174.0,895.8 180.0,892.5 186.0,889.2 192.0,885.9 198.0,882.7 204.0,879.4 210.0,876.3 216.0,873.1 222.0,870.0 228.0,866.9 234.0,863.9 240.0,860.9 246.0,858.0 252.0,855.0 258.0,852.1 264.0,849.3 270.0,846.5 276.0,843.7 282.0,841.0 288.0,838.3 294.0,835.6 300.0,832.9 306.0,830.3 312.0,827.7 318.0,825.1 324.0,822.6 330.0,820.0 336.0,817.5 342.0,815.0 348.0,812.5 354.0,810.0 360.0,807.5 366.0,805.1 372.0,802.6 378.0,800.2 384.0,797.7 384.8,797.4 385.6,794.9 390.8,792.8 398.8,789.6 406.8,786.3 414.8,783.1 422.8,779.9 430.8,776.8 438.8,773.6 446.8,770.5 454.8,767.4 462.8,764.3 470.8,761.3 478.8,758.2 486.8,755.3 494.8,752.3 502.8,749.4 510.8,746.5 518.8,743.7 526.8,740.9 534.8,738.0 542.8,735.3 550.8,732.5 558.8,729.8 566.8,727.0 574.8,724.3 582.8,721.6 590.8,719.0 598.8,716.3 606.8,713.7 614.8,711.0 622.8,708.4 630.8,705.8 638.8,703.3 646.8,700.7 654.8,698.1 662.8,695.6 670.8,693.1 678.8,690.6 686.8,688.1 694.8,685.6 702.8,683.1 710.8,680.7 718.8,678.3 726.8,675.8 734.8,673.4 742.8,671.0 750.8,668.6 758.8,666.3 766.8,663.9 774.8,661.5 782.8,659.2 790.8,656.9 798.8,654.5 806.8,652.2 814.8,649.9 822.8,647.6 830.8,645.3 838.8,643.1 846.8,640.8 854.8,638.5 862.8,636.3 870.8,634.0 878.8,631.8 886.8,629.6 894.8,627.3 902.8,625.1 910.8,622.9 918.8,620.7 926.8,618.5 934.8,616.3 942.8,614.2 950.8,612.0 958.8,609.8 966.8,607.7 974.8,605.5 982.8,603.4 990.8,601.2 998.8,599.1 1006.8,597.0 1014.8,594.9 1022.8,592.7 1030.8,590.6 1038.8,588.5 1046.8,586.5 1054.8,584.4 1062.8,582.3 1070.8,580.2 1078.8,578.2 1086.8,576.1 1094.8,574.0 1102.8,572.0 1110.8,569.9 1118.8,567.9 1126.8,565.9 1134.8,563.9 1142.8,561.8 1150.8,559.8 1158.8,557.8 1166.8,555.8 1174.8,553.8 1182.8,551.8 1190.8,549.8 1198.8,547.8 1206.8,545.9 1214.8,543.9 1222.8,541.9 1230.8,540.0 1238.8,538.0 1246.8,536.0 1254.8,534.1 1262.8,532.1 1270.8,530.2 1278.8,528.3 1286.8,526.3 1294.8,524.4 1302.8,522.5 1310.8,520.5 1318.8,518.6 1326.8,516.7 1334.8,514.8 1342.8,512.9 1350.8,511.0 1358.8,509.1 1366.8,507.2 1374.8,505.4 1382.8,503.5 1390.8,501.6 1398.8,499.7 1406.8,497.9 1414.8,496.0 1422.8,494.2 1430.8,492.3 1438.8,490.5 1446.8,488.6 1454.8,486.8 1462.8,485.0 1470.8,483.2 1478.8,481.3 1486.8,479.5 1494.8,477.7 1502.8,475.9 1510.8,474.1 1518.8,472.4 1526.8,470.6 1534.8,468.8 1542.8,467.0 1550.8,465.3 1558.8,463.5 1566.8,461.7 1574.8,460.0 1582.8,458.2 1590.8,456.5 1598.8,454.7 1606.8,453.0 1614.8,451.2 1622.8,449.5 1630.8,447.8 1638.8,446.0 1646.8,444.3 1654.8,442.5 1662.8,440.8 1670.8,439.1 1678.8,437.3 1686.8,435.6 1694.8,433.9 1702.8,432.1 1710.8,430.4 1718.8,428.7 1726.8,426.9 1734.8,425.2 1742.8,423.5 1750.8,421.8 1758.8,420.0 1766.8,418.3 1774.8,416.6 1782.8,414.9 1790.8,413.1 1798.8,411.4 1806.8,409.7 1814.8,408.0 1822.8,406.3 1830.8,404.6 1838.8,402.9 1846.8,401.2 1854.8,399.5 1862.8,397.8 1870.8,396.1 1878.8,394.4 1886.8,392.7 1894.8,391.0 1902.8,389.3 1910.8,387.6 1918.8,386.0 1926.8,384.3 1934.8,382.6 1942.8,380.9 1950.8,379.3 1958.8,377.6 1966.8,375.9 1974.8,374.3 1982.8,372.6 1990.8,371.0 1998.8,369.3 2006.8,367.7 2014.8,366.0 2022.8,364.4 2030.8,362.7 2038.8,361.1 2046.8,359.4 2054.8,357.8 2062.8,356.2 2070.8,354.5 2078.8,352.9 2086.8,351.3 2094.8,349.7 2102.8,348.0 2110.8,346.4 2118.8,344.8 2126.8,343.2 2134.8,341.6 2142.8,339.9 2150.8,338.3 2158.8,336.7 2166.8,335.1 2174.8,333.5 2182.8,331.9 2190.8,330.3 2198.8,328.7 2206.8,327.1 2214.8,325.5 2222.8,324.0 2230.8,322.4 2238.8,320.8 2246.8,319.2 2254.8,317.6 2262.8,316.1 2270.8,314.5 2278.8,312.9 2286.8,311.4 2294.8,309.8 2302.8,308.3 2310.8,306.7 2318.8,305.2 2326.8,303.6 2334.8,302.1 2342.8,300.5 2350.8,299.0 2358.8,297.4 2366.8,295.9 2374.8,294.4 2382.8,292.8 2390.8,291.3 2398.8,289.8 2406.8,288.2 2414.8,286.7 2422.8,285.2 2430.8,283.6 2438.8,282.1 2446.8,280.6 2454.8,279.0 2462.8,277.5 2470.8,276.0 2478.8,274.5 2486.8,272.9 2494.8,271.4 2502.8,269.9 2510.8,268.3 2518.8,266.8 2526.8,265.3 2534.8,263.8 2542.8,262.2 2550.8,260.7 2558.8,259.2 2566.8,257.7 2574.8,256.2 2582.8,254.6 2590.8,253.1 2598.8,251.6 2606.8,250.1 2614.8,248.6 2622.8,247.1 2630.8,245.6 2638.8,244.1 2646.8,242.6 2654.8,241.1 2662.8,239.6 2670.8,238.1 2678.8,236.6 2686.8,235.0 2694.8,233.5 2702.8,232.0 2710.8,230.5 2718.8,229.0 2726.8,227.5 2729.8,227.0" fill="none" stroke="rgba(190,120,60,0.75)" stroke-width="1.1"/>
<polyline points="0.0,977.5 6.0,972.7 12.0,967.9 18.0,963.2 24.0,958.6 30.0,954.1 36.0,949.7 42.0,945.3 48.0,941.0 54.0,936.7 60.0,932.5 66.0,928.4 72.0,924.3 78.0,920.3 84.0,916.3 90.0,912.4 96.0,908.6 102.0,904.8 108.0,901.0 114.0,897.3 120.0,893.6 126.0,890.0 132.0,886.4 138.0,882.9 144.0,879.4 150.0,876.0 156.0,872.6 162.0,869.2 168.0,865.8 174.0,862.5 180.0,859.1 186.0,855.9 192.0,852.6 198.0,849.4 204.0,846.2 210.0,843.1 216.0,840.0 222.0,836.9 228.0,833.8 234.0,830.8 240.0,827.9 246.0,824.9 252.0,822.0 258.0,819.2 264.0,816.4 270.0,813.6 276.0,810.8 282.0,808.1 288.0,805.4 294.0,802.8 300.0,800.2 306.0,797.6 312.0,795.0 318.0,792.4 324.0,789.9 330.0,787.4 336.0,784.9 342.0,782.4 348.0,779.9 354.0,777.5 360.0,775.0 366.0,772.6 372.0,770.2 378.0,767.8 384.0,765.3 384.8,765.0 385.6,762.5 390.8,760.4 398.8,757.2 406.8,754.0 414.8,750.9 422.8,747.7 430.8,744.6 438.8,741.5 446.8,738.4 454.8,735.3 462.8,732.3 470.8,729.3 478.8,726.3 486.8,723.3 494.8,720.4 502.8,717.5 510.8,714.7 518.8,711.9 526.8,709.1 534.8,706.3 542.8,703.6 550.8,700.9 558.8,698.2 566.8,695.5 574.8,692.8 582.8,690.1 590.8,687.5 598.8,684.9 606.8,682.3 614.8,679.7 622.8,677.1 630.8,674.6 638.8,672.0 646.8,669.5 654.8,667.0 662.8,664.5 670.8,662.0 678.8,659.5 686.8,657.1 694.8,654.6 702.8,652.2 710.8,649.8 718.8,647.4 726.8,645.0 734.8,642.6 742.8,640.3 750.8,637.9 758.8,635.6 766.8,633.2 774.8,630.9 782.8,628.6 790.8,626.3 798.8,624.0 806.8,621.7 814.8,619.5 822.8,617.2 830.8,615.0 838.8,612.7 846.8,610.5 854.8,608.3 862.8,606.1 870.8,603.8 878.8,601.6 886.8,599.5 894.8,597.3 902.8,595.1 910.8,592.9 918.8,590.8 926.8,588.6 934.8,586.4 942.8,584.3 950.8,582.2 958.8,580.0 966.8,577.9 974.8,575.8 982.8,573.7 990.8,571.6 998.8,569.5 1006.8,567.4 1014.8,565.3 1022.8,563.3 1030.8,561.2 1038.8,559.1 1046.8,557.1 1054.8,555.0 1062.8,553.0 1070.8,550.9 1078.8,548.9 1086.8,546.9 1094.8,544.9 1102.8,542.9 1110.8,540.9 1118.8,538.9 1126.8,536.9 1134.8,534.9 1142.8,532.9 1150.8,530.9 1158.8,528.9 1166.8,527.0 1174.8,525.0 1182.8,523.1 1190.8,521.1 1198.8,519.2 1206.8,517.2 1214.8,515.3 1222.8,513.3 1230.8,511.4 1238.8,509.5 1246.8,507.6 1254.8,505.7 1262.8,503.7 1270.8,501.8 1278.8,499.9 1286.8,498.0 1294.8,496.1 1302.8,494.3 1310.8,492.4 1318.8,490.5 1326.8,488.6 1334.8,486.7 1342.8,484.9 1350.8,483.0 1358.8,481.2 1366.8,479.3 1374.8,477.5 1382.8,475.6 1390.8,473.8 1398.8,472.0 1406.8,470.1 1414.8,468.3 1422.8,466.5 1430.8,464.7 1438.8,462.9 1446.8,461.1 1454.8,459.3 1462.8,457.5 1470.8,455.7 1478.8,453.9 1486.8,452.2 1494.8,450.4 1502.8,448.6 1510.8,446.9 1518.8,445.1 1526.8,443.4 1534.8,441.6 1542.8,439.9 1550.8,438.2 1558.8,436.5 1566.8,434.7 1574.8,433.0 1582.8,431.3 1590.8,429.6 1598.8,427.9 1606.8,426.2 1614.8,424.4 1622.8,422.7 1630.8,421.0 1638.8,419.3 1646.8,417.6 1654.8,415.9 1662.8,414.2 1670.8,412.5 1678.8,410.8 1686.8,409.1 1694.8,407.4 1702.8,405.7 1710.8,404.0 1718.8,402.3 1726.8,400.7 1734.8,399.0 1742.8,397.3 1750.8,395.6 1758.8,393.9 1766.8,392.2 1774.8,390.5 1782.8,388.8 1790.8,387.1 1798.8,385.5 1806.8,383.8 1814.8,382.1 1822.8,380.4 1830.8,378.8 1838.8,377.1 1846.8,375.4 1854.8,373.8 1862.8,372.1 1870.8,370.4 1878.8,368.8 1886.8,367.1 1894.8,365.5 1902.8,363.8 1910.8,362.2 1918.8,360.5 1926.8,358.9 1934.8,357.3 1942.8,355.6 1950.8,354.0 1958.8,352.4 1966.8,350.7 1974.8,349.1 1982.8,347.5 1990.8,345.9 1998.8,344.3 2006.8,342.7 2014.8,341.0 2022.8,339.4 2030.8,337.8 2038.8,336.2 2046.8,334.6 2054.8,333.0 2062.8,331.4 2070.8,329.8 2078.8,328.2 2086.8,326.6 2094.8,325.0 2102.8,323.5 2110.8,321.9 2118.8,320.3 2126.8,318.7 2134.8,317.1 2142.8,315.5 2150.8,314.0 2158.8,312.4 2166.8,310.8 2174.8,309.3 2182.8,307.7 2190.8,306.1 2198.8,304.6 2206.8,303.0 2214.8,301.5 2222.8,299.9 2230.8,298.4 2238.8,296.8 2246.8,295.3 2254.8,293.8 2262.8,292.2 2270.8,290.7 2278.8,289.2 2286.8,287.6 2294.8,286.1 2302.8,284.6 2310.8,283.1 2318.8,281.6 2326.8,280.1 2334.8,278.6 2342.8,277.0 2350.8,275.5 2358.8,274.0 2366.8,272.5 2374.8,271.0 2382.8,269.5 2390.8,268.0 2398.8,266.5 2406.8,265.0 2414.8,263.5 2422.8,262.0 2430.8,260.6 2438.8,259.1 2446.8,257.6 2454.8,256.1 2462.8,254.6 2470.8,253.1 2478.8,251.6 2486.8,250.1 2494.8,248.6 2502.8,247.1 2510.8,245.6 2518.8,244.1 2526.8,242.6 2534.8,241.1 2542.8,239.7 2550.8,238.2 2558.8,236.7 2566.8,235.2 2574.8,233.7 2582.8,232.3 2590.8,230.8 2598.8,229.3 2606.8,227.8 2614.8,226.4 2622.8,224.9 2630.8,223.4 2638.8,221.9 2646.8,220.5 2654.8,219.0 2662.8,217.5 2670.8,216.1 2678.8,214.6 2686.8,213.1 2694.8,211.7 2702.8,210.2 2710.8,208.7 2718.8,207.3 2726.8,205.8 2729.8,205.3" fill="none" stroke="#a97c16" stroke-opacity="0.92" stroke-width="1.4"/>
<polyline points="0.0,1027.7 6.0,1022.9 12.0,1018.1 18.0,1013.3 24.0,1008.7 30.0,1004.1 36.0,999.6 42.0,995.2 48.0,990.9 54.0,986.6 60.0,982.3 66.0,978.1 72.0,974.0 78.0,970.0 84.0,966.0 90.0,962.0 96.0,958.1 102.0,954.3 108.0,950.5 114.0,946.7 120.0,943.0 126.0,939.3 132.0,935.7 138.0,932.2 144.0,928.6 150.0,925.1 156.0,921.7 162.0,918.2 168.0,914.8 174.0,911.4 180.0,908.1 186.0,904.8 192.0,901.5 198.0,898.2 204.0,895.0 210.0,891.8 216.0,888.6 222.0,885.5 228.0,882.4 234.0,879.4 240.0,876.4 246.0,873.4 252.0,870.4 258.0,867.5 264.0,864.7 270.0,861.9 276.0,859.1 282.0,856.3 288.0,853.6 294.0,850.9 300.0,848.2 306.0,845.6 312.0,842.9 318.0,840.3 324.0,837.8 330.0,835.2 336.0,832.7 342.0,830.1 348.0,827.6 354.0,825.1 360.0,822.6 366.0,820.2 372.0,817.7 378.0,815.2 384.0,812.8 384.8,812.5 385.6,809.9 390.8,807.8 398.8,804.6 406.8,801.3 414.8,798.1 422.8,794.9 430.8,791.7 438.8,788.5 446.8,785.4 454.8,782.2 462.8,779.1 470.8,776.1 478.8,773.0 486.8,770.0 494.8,767.1 502.8,764.1 510.8,761.2 518.8,758.4 526.8,755.5 534.8,752.7 542.8,749.9 550.8,747.1 558.8,744.3 566.8,741.6 574.8,738.9 582.8,736.1 590.8,733.4 598.8,730.8 606.8,728.1 614.8,725.5 622.8,722.8 630.8,720.2 638.8,717.6 646.8,715.0 654.8,712.5 662.8,709.9 670.8,707.4 678.8,704.8 686.8,702.3 694.8,699.8 702.8,697.3 710.8,694.9 718.8,692.4 726.8,690.0 734.8,687.5 742.8,685.1 750.8,682.7 758.8,680.3 766.8,677.9 774.8,675.5 782.8,673.2 790.8,670.8 798.8,668.5 806.8,666.1 814.8,663.8 822.8,661.5 830.8,659.2 838.8,656.9 846.8,654.6 854.8,652.3 862.8,650.0 870.8,647.8 878.8,645.5 886.8,643.3 894.8,641.0 902.8,638.8 910.8,636.5 918.8,634.3 926.8,632.1 934.8,629.9 942.8,627.7 950.8,625.5 958.8,623.3 966.8,621.1 974.8,619.0 982.8,616.8 990.8,614.6 998.8,612.5 1006.8,610.3 1014.8,608.2 1022.8,606.1 1030.8,603.9 1038.8,601.8 1046.8,599.7 1054.8,597.6 1062.8,595.5 1070.8,593.4 1078.8,591.3 1086.8,589.2 1094.8,587.2 1102.8,585.1 1110.8,583.0 1118.8,581.0 1126.8,578.9 1134.8,576.9 1142.8,574.8 1150.8,572.8 1158.8,570.8 1166.8,568.7 1174.8,566.7 1182.8,564.7 1190.8,562.7 1198.8,560.7 1206.8,558.7 1214.8,556.7 1222.8,554.7 1230.8,552.7 1238.8,550.7 1246.8,548.7 1254.8,546.8 1262.8,544.8 1270.8,542.8 1278.8,540.9 1286.8,538.9 1294.8,537.0 1302.8,535.0 1310.8,533.1 1318.8,531.1 1326.8,529.2 1334.8,527.3 1342.8,525.4 1350.8,523.4 1358.8,521.5 1366.8,519.6 1374.8,517.7 1382.8,515.8 1390.8,513.9 1398.8,512.0 1406.8,510.1 1414.8,508.3 1422.8,506.4 1430.8,504.5 1438.8,502.7 1446.8,500.8 1454.8,498.9 1462.8,497.1 1470.8,495.3 1478.8,493.4 1486.8,491.6 1494.8,489.8 1502.8,488.0 1510.8,486.1 1518.8,484.3 1526.8,482.5 1534.8,480.7 1542.8,478.9 1550.8,477.1 1558.8,475.4 1566.8,473.6 1574.8,471.8 1582.8,470.0 1590.8,468.3 1598.8,466.5 1606.8,464.7 1614.8,463.0 1622.8,461.2 1630.8,459.4 1638.8,457.7 1646.8,455.9 1654.8,454.2 1662.8,452.4 1670.8,450.6 1678.8,448.9 1686.8,447.1 1694.8,445.4 1702.8,443.6 1710.8,441.9 1718.8,440.1 1726.8,438.3 1734.8,436.6 1742.8,434.8 1750.8,433.1 1758.8,431.3 1766.8,429.6 1774.8,427.9 1782.8,426.1 1790.8,424.4 1798.8,422.6 1806.8,420.9 1814.8,419.2 1822.8,417.4 1830.8,415.7 1838.8,414.0 1846.8,412.2 1854.8,410.5 1862.8,408.8 1870.8,407.1 1878.8,405.4 1886.8,403.7 1894.8,401.9 1902.8,400.2 1910.8,398.5 1918.8,396.8 1926.8,395.1 1934.8,393.4 1942.8,391.7 1950.8,390.1 1958.8,388.4 1966.8,386.7 1974.8,385.0 1982.8,383.3 1990.8,381.7 1998.8,380.0 2006.8,378.3 2014.8,376.6 2022.8,375.0 2030.8,373.3 2038.8,371.6 2046.8,370.0 2054.8,368.3 2062.8,366.7 2070.8,365.0 2078.8,363.4 2086.8,361.7 2094.8,360.1 2102.8,358.4 2110.8,356.8 2118.8,355.1 2126.8,353.5 2134.8,351.9 2142.8,350.2 2150.8,348.6 2158.8,347.0 2166.8,345.3 2174.8,343.7 2182.8,342.1 2190.8,340.5 2198.8,338.8 2206.8,337.2 2214.8,335.6 2222.8,334.0 2230.8,332.4 2238.8,330.8 2246.8,329.2 2254.8,327.6 2262.8,326.0 2270.8,324.4 2278.8,322.8 2286.8,321.3 2294.8,319.7 2302.8,318.1 2310.8,316.5 2318.8,315.0 2326.8,313.4 2334.8,311.8 2342.8,310.3 2350.8,308.7 2358.8,307.1 2366.8,305.6 2374.8,304.0 2382.8,302.5 2390.8,300.9 2398.8,299.3 2406.8,297.8 2414.8,296.2 2422.8,294.7 2430.8,293.1 2438.8,291.6 2446.8,290.0 2454.8,288.5 2462.8,286.9 2470.8,285.4 2478.8,283.8 2486.8,282.3 2494.8,280.7 2502.8,279.2 2510.8,277.6 2518.8,276.1 2526.8,274.5 2534.8,273.0 2542.8,271.4 2550.8,269.9 2558.8,268.3 2566.8,266.8 2574.8,265.3 2582.8,263.7 2590.8,262.2 2598.8,260.7 2606.8,259.1 2614.8,257.6 2622.8,256.1 2630.8,254.5 2638.8,253.0 2646.8,251.5 2654.8,249.9 2662.8,248.4 2670.8,246.9 2678.8,245.4 2686.8,243.8 2694.8,242.3 2702.8,240.8 2710.8,239.3 2718.8,237.8 2726.8,236.2 2729.8,235.7" fill="none" stroke="#b27218" stroke-opacity="0.92" stroke-width="1.4"/>
<polyline points="0.0,998.4 6.0,993.6 12.0,988.8 18.0,984.1 24.0,979.5 30.0,975.0 36.0,970.5 42.0,966.1 48.0,961.8 54.0,957.5 60.0,953.3 66.0,949.1 72.0,945.1 78.0,941.0 84.0,937.0 90.0,933.1 96.0,929.2 102.0,925.4 108.0,921.7 114.0,917.9 120.0,914.2 126.0,910.6 132.0,907.0 138.0,903.5 144.0,900.0 150.0,896.5 156.0,893.1 162.0,889.7 168.0,886.3 174.0,882.9 180.0,879.6 186.0,876.3 192.0,873.0 198.0,869.8 204.0,866.6 210.0,863.5 216.0,860.3 222.0,857.2 228.0,854.2 234.0,851.1 240.0,848.2 246.0,845.2 252.0,842.3 258.0,839.4 264.0,836.6 270.0,833.8 276.0,831.0 282.0,828.3 288.0,825.6 294.0,822.9 300.0,820.3 306.0,817.7 312.0,815.1 318.0,812.5 324.0,810.0 330.0,807.4 336.0,804.9 342.0,802.4 348.0,799.9 354.0,797.5 360.0,795.0 366.0,792.6 372.0,790.1 378.0,787.7 384.0,785.3 384.8,784.9 385.6,782.4 390.8,780.3 398.8,777.1 406.8,773.9 414.8,770.7 422.8,767.5 430.8,764.4 438.8,761.2 446.8,758.1 454.8,755.0 462.8,752.0 470.8,748.9 478.8,745.9 486.8,743.0 494.8,740.0 502.8,737.1 510.8,734.3 518.8,731.4 526.8,728.6 534.8,725.8 542.8,723.1 550.8,720.3 558.8,717.6 566.8,714.9 574.8,712.2 582.8,709.5 590.8,706.9 598.8,704.2 606.8,701.6 614.8,699.0 622.8,696.4 630.8,693.8 638.8,691.2 646.8,688.7 654.8,686.2 662.8,683.6 670.8,681.1 678.8,678.6 686.8,676.2 694.8,673.7 702.8,671.3 710.8,668.8 718.8,666.4 726.8,664.0 734.8,661.6 742.8,659.2 750.8,656.8 758.8,654.5 766.8,652.1 774.8,649.8 782.8,647.4 790.8,645.1 798.8,642.8 806.8,640.5 814.8,638.2 822.8,636.0 830.8,633.7 838.8,631.4 846.8,629.2 854.8,626.9 862.8,624.7 870.8,622.5 878.8,620.2 886.8,618.0 894.8,615.8 902.8,613.6 910.8,611.4 918.8,609.2 926.8,607.1 934.8,604.9 942.8,602.7 950.8,600.6 958.8,598.4 966.8,596.3 974.8,594.1 982.8,592.0 990.8,589.9 998.8,587.8 1006.8,585.7 1014.8,583.6 1022.8,581.5 1030.8,579.4 1038.8,577.3 1046.8,575.2 1054.8,573.1 1062.8,571.1 1070.8,569.0 1078.8,567.0 1086.8,564.9 1094.8,562.9 1102.8,560.8 1110.8,558.8 1118.8,556.8 1126.8,554.8 1134.8,552.8 1142.8,550.8 1150.8,548.8 1158.8,546.8 1166.8,544.8 1174.8,542.8 1182.8,540.8 1190.8,538.9 1198.8,536.9 1206.8,534.9 1214.8,533.0 1222.8,531.0 1230.8,529.1 1238.8,527.1 1246.8,525.2 1254.8,523.2 1262.8,521.3 1270.8,519.4 1278.8,517.4 1286.8,515.5 1294.8,513.6 1302.8,511.7 1310.8,509.8 1318.8,507.9 1326.8,506.0 1334.8,504.1 1342.8,502.2 1350.8,500.3 1358.8,498.5 1366.8,496.6 1374.8,494.7 1382.8,492.9 1390.8,491.0 1398.8,489.1 1406.8,487.3 1414.8,485.5 1422.8,483.6 1430.8,481.8 1438.8,480.0 1446.8,478.1 1454.8,476.3 1462.8,474.5 1470.8,472.7 1478.8,470.9 1486.8,469.1 1494.8,467.3 1502.8,465.5 1510.8,463.8 1518.8,462.0 1526.8,460.2 1534.8,458.5 1542.8,456.7 1550.8,455.0 1558.8,453.2 1566.8,451.5 1574.8,449.7 1582.8,448.0 1590.8,446.3 1598.8,444.5 1606.8,442.8 1614.8,441.1 1622.8,439.3 1630.8,437.6 1638.8,435.9 1646.8,434.2 1654.8,432.4 1662.8,430.7 1670.8,429.0 1678.8,427.3 1686.8,425.6 1694.8,423.8 1702.8,422.1 1710.8,420.4 1718.8,418.7 1726.8,417.0 1734.8,415.3 1742.8,413.5 1750.8,411.8 1758.8,410.1 1766.8,408.4 1774.8,406.7 1782.8,405.0 1790.8,403.3 1798.8,401.6 1806.8,399.9 1814.8,398.2 1822.8,396.5 1830.8,394.8 1838.8,393.1 1846.8,391.4 1854.8,389.7 1862.8,388.1 1870.8,386.4 1878.8,384.7 1886.8,383.0 1894.8,381.3 1902.8,379.7 1910.8,378.0 1918.8,376.3 1926.8,374.7 1934.8,373.0 1942.8,371.4 1950.8,369.7 1958.8,368.1 1966.8,366.4 1974.8,364.8 1982.8,363.1 1990.8,361.5 1998.8,359.9 2006.8,358.2 2014.8,356.6 2022.8,355.0 2030.8,353.3 2038.8,351.7 2046.8,350.1 2054.8,348.4 2062.8,346.8 2070.8,345.2 2078.8,343.6 2086.8,342.0 2094.8,340.4 2102.8,338.8 2110.8,337.2 2118.8,335.6 2126.8,333.9 2134.8,332.3 2142.8,330.8 2150.8,329.2 2158.8,327.6 2166.8,326.0 2174.8,324.4 2182.8,322.8 2190.8,321.2 2198.8,319.6 2206.8,318.1 2214.8,316.5 2222.8,314.9 2230.8,313.3 2238.8,311.8 2246.8,310.2 2254.8,308.7 2262.8,307.1 2270.8,305.6 2278.8,304.0 2286.8,302.5 2294.8,300.9 2302.8,299.4 2310.8,297.8 2318.8,296.3 2326.8,294.8 2334.8,293.2 2342.8,291.7 2350.8,290.2 2358.8,288.7 2366.8,287.1 2374.8,285.6 2382.8,284.1 2390.8,282.6 2398.8,281.1 2406.8,279.5 2414.8,278.0 2422.8,276.5 2430.8,275.0 2438.8,273.5 2446.8,272.0 2454.8,270.4 2462.8,268.9 2470.8,267.4 2478.8,265.9 2486.8,264.4 2494.8,262.9 2502.8,261.3 2510.8,259.8 2518.8,258.3 2526.8,256.8 2534.8,255.3 2542.8,253.8 2550.8,252.3 2558.8,250.8 2566.8,249.3 2574.8,247.8 2582.8,246.3 2590.8,244.8 2598.8,243.3 2606.8,241.8 2614.8,240.3 2622.8,238.8 2630.8,237.3 2638.8,235.8 2646.8,234.3 2654.8,232.8 2662.8,231.3 2670.8,229.9 2678.8,228.4 2686.8,226.9 2694.8,225.4 2702.8,223.9 2710.8,222.4 2718.8,220.9 2726.8,219.5 2729.8,218.9" fill="none" stroke="#f0ebc2" stroke-width="1.4"/>
</g>
<rect x="32.9" y="865.0" width="113.2" height="23.9" rx="2" fill="#2196f3"/>
<polygon points="80.3,888.4 98.7,888.4 89.5,897.0" fill="#2196f3"/>
<rect x="104.0" y="824.9" width="99.1" height="23.1" rx="2" fill="#2196f3"/>
<polygon points="144.3,847.5 162.7,847.5 153.5,856.9" fill="#2196f3"/>
<rect x="96.9" y="950.9" width="107.1" height="24.1" rx="2" fill="#ff5252"/>
<polygon points="141.20000000000002,951.4 159.6,951.4 150.4,942.9" fill="#ff5252"/>
<rect x="389.9" y="814.9" width="115.2" height="23.0" rx="2" fill="#ff5252"/>
<polygon points="438.3,815.4 456.7,815.4 447.5,806.0" fill="#ff5252"/>
<rect x="872.9" y="548.9" width="113.2" height="23.0" rx="2" fill="#2196f3"/>
<polygon points="920.3,571.4 938.7,571.4 929.5,580.8" fill="#2196f3"/>
<rect x="1477.0" y="509.9" width="115.2" height="24.1" rx="2" fill="#ff5252"/>
<polygon points="1525.3999999999999,510.4 1543.8,510.4 1534.6,502.1" fill="#ff5252"/>
<rect x="1875.0" y="312.9" width="113.1" height="22.9" rx="2" fill="#2196f3"/>
<polygon points="1922.3,335.3 1940.7,335.3 1931.5,344.9" fill="#2196f3"/>
<rect x="1997.9" y="387.9" width="115.2" height="23.9" rx="2" fill="#ff5252"/>
<polygon points="2046.3,388.4 2064.7,388.4 2055.5,380.1" fill="#ff5252"/>
<rect x="2094.9" y="266.9" width="113.1" height="24.2" rx="2" fill="#2196f3"/>
<polygon points="2142.3,290.6 2160.7,290.6 2151.5,299.1" fill="#2196f3"/>
<rect x="2412.8" y="308.0" width="115.1" height="23.0" rx="2" fill="#ff5252"/>
<polygon points="2461.2000000000003,308.5 2479.6,308.5 2470.4,298.9" fill="#ff5252"/>
<rect x="2672.9" y="127.1" width="112.8" height="23.8" rx="2" fill="#2196f3"/>
<rect x="2674.5" y="127.1" width="109.6" height="1.9" fill="#1f84d8"/>
<rect x="2680.9" y="129.2" width="98.9" height="23.8" rx="2" fill="#2196f3"/>
<polygon points="2721.2,152.5 2739.6,152.5 2730.4,161.2" fill="#2196f3"/>
</svg>
<div class="abs t lab b" style="left:88.9px;top:869.7px">170 days ABOVE</div>
<div class="abs t lab b" style="left:152.9px;top:828.8px">4 days ABOVE</div>
<div class="abs t lab r" style="left:149.8px;top:955.6px">86 days BELOW</div>
<div class="abs t lab r" style="left:446.9px;top:818.7px">413 days BELOW</div>
<div class="abs t lab b" style="left:928.9px;top:552.6px">677 days ABOVE</div>
<div class="abs t lab r" style="left:1534.0px;top:514.7px">850 days BELOW</div>
<div class="abs t lab b" style="left:1930.9px;top:316.7px">557 days ABOVE</div>
<div class="abs t lab r" style="left:2054.9px;top:392.5px">174 days BELOW</div>
<div class="abs t lab b" style="left:2150.9px;top:270.6px">136 days ABOVE</div>
<div class="abs t lab r" style="left:2469.8px;top:311.7px">447 days BELOW</div>
<div class="abs t lab b" style="left:2729.8px;top:133.6px">1 days ABOVE</div>
<div class="abs t lg" style="left:18.3px;top:34.8px">BTCUSD, 1D, INDEX</div>
<div class="abs t lg" style="left:18.3px;top:51.6px">CRC.study Fair Value</div>
<div class="abs t" style="left:25px;top:1134.2px;font-size:14px;line-height:16px;color:#8b8e98">V0.1 (@calmrat)</div>
<div class="abs" style="left:2864px;top:28px;width:98px;height:1136px;overflow:hidden">
<div class="abs t pl" style="top:-8.0px">420000.00</div>
<div class="abs t pl" style="top:36.0px">240000.00</div>
<div class="abs t pl" style="top:78.0px">140000.00</div>
<div class="abs t pl" style="top:122.0px">80000.00</div>
<div class="abs t pl" style="top:162.0px">48000.00</div>
<div class="abs t pl" style="top:204.0px">28000.00</div>
<div class="abs t pl" style="top:248.0px">16000.00</div>
<div class="abs t pl" style="top:293.0px">9000.00</div>
<div class="abs t pl" style="top:333.0px">5400.00</div>
<div class="abs t pl" style="top:374.0px">3200.00</div>
<div class="abs t pl" style="top:419.0px">1800.00</div>
<div class="abs t pl" style="top:466.0px">1000.00</div>
<div class="abs t pl" style="top:506.0px">600.00</div>
<div class="abs t pl" style="top:548.0px">350.00</div>
<div class="abs t pl" style="top:588.0px">210.00</div>
<div class="abs t pl" style="top:632.0px">120.00</div>
<div class="abs t pl" style="top:674.0px">70.00</div>
<div class="abs t pl" style="top:718.0px">40.00</div>
<div class="abs t pl" style="top:758.0px">24.00</div>
<div class="abs t pl" style="top:800.0px">14.00</div>
<div class="abs t pl" style="top:844.0px">8.00</div>
<div class="abs t pl" style="top:889.0px">4.50</div>
<div class="abs t pl" style="top:929.0px">2.70</div>
<div class="abs t pl" style="top:970.0px">1.60</div>
<div class="abs t pl" style="top:1011.0px">0.95</div>
<div class="abs t pl" style="top:1054.0px">0.55</div>
<div class="abs t pl" style="top:1094.0px">0.33</div>
</div>
<div class="abs" style="left:11px;top:0;width:2852px;height:1235px;overflow:hidden">
<div class="abs t tl" style="left:0.40000000000000036px;top:1171.5px;transform:none">ul</div>
<div class="abs t tl b" style="left:133.4px;top:1171.5px">2012</div>
<div class="abs t tl" style="left:241.4px;top:1171.5px">Jun</div>
<div class="abs t tl b" style="left:390.4px;top:1171.5px">2013</div>
<div class="abs t tl" style="left:497.5px;top:1171.5px">Jun</div>
<div class="abs t tl b" style="left:649.3px;top:1171.5px">2014</div>
<div class="abs t tl" style="left:756.5px;top:1171.5px">Jun</div>
<div class="abs t tl b" style="left:909.4px;top:1171.5px">2015</div>
<div class="abs t tl" style="left:1016.6px;top:1171.5px">Jun</div>
<div class="abs t tl b" style="left:1169.5px;top:1171.5px">2016</div>
<div class="abs t tl" style="left:1277.4px;top:1171.5px">Jun</div>
<div class="abs t tl b" style="left:1429.6px;top:1171.5px">2017</div>
<div class="abs t tl" style="left:1537.5px;top:1171.5px">Jun</div>
<div class="abs t tl b" style="left:1689.7px;top:1171.5px">2018</div>
<div class="abs t tl" style="left:1797.6px;top:1171.5px">Jun</div>
<div class="abs t tl b" style="left:1949.8px;top:1171.5px">2019</div>
<div class="abs t tl" style="left:2056.7px;top:1171.5px">Jun</div>
<div class="abs t tl b" style="left:2209.4px;top:1171.5px">2020</div>
<div class="abs t tl" style="left:2317.6px;top:1171.5px">Jun</div>
<div class="abs t tl b" style="left:2469.4px;top:1171.5px">2021</div>
<div class="abs t tl" style="left:2577.3px;top:1171.5px">Jun</div>
<div class="abs t tl b" style="left:2729.5px;top:1171.5px">2022</div>
<div class="abs t tl" style="left:2837.4px;top:1171.5px">Jun</div>
</div>
<div class="abs" style="left:2115px;top:37px;width:738px;height:92px">
<div class="abs row" style="top:0px;background:rgba(120,123,134,0.26)"></div>
<div class="abs t tb" style="top:0.3px;right:460px;color:#787b86">CLOSE</div>
<div class="abs t tb" style="top:0.3px;right:175px;color:#787b86">48250</div>
<div class="abs row" style="top:23px;background:rgba(120,123,134,0.17)"></div>
<div class="abs t tb" style="top:23.3px;right:460px;color:#c9920e">Upper Band</div>
<div class="abs t tb" style="top:23.3px;right:175px;color:#c9920e">43762</div>
<div class="abs t tb" style="top:23.3px;right:6px;color:#c9920e">-9%</div>
<div class="abs row" style="top:46px;background:rgba(120,123,134,0.17)"></div>
<div class="abs t tb" style="top:46.3px;right:460px;color:#f0f1f3">Fair Value</div>
<div class="abs t tb" style="top:46.3px;right:175px;color:#f0f1f3">36843</div>
<div class="abs t tb" style="top:46.3px;right:6px;color:#f0f1f3">-24%</div>
<div class="abs row" style="top:69px;background:rgba(120,123,134,0.17)"></div>
<div class="abs t tb" style="top:69.3px;right:460px;color:#ee5353">Lower Band</div>
<div class="abs t tb" style="top:69.3px;right:175px;color:#ee5353">29924</div>
<div class="abs t tb" style="top:69.3px;right:6px;color:#ee5353">-38%</div>
</div>
<div class="abs" style="left:1833px;top:1085px;width:1020px;height:69px">
<div class="abs t tb" style="top:0;right:346px;color:#3a8a48">ABOVE</div>
<div class="abs t tb" style="top:0;right:6px;color:#b03c40">BELOW</div>
<div class="abs row" style="top:23px;background:rgba(120,123,134,0.17)"></div>
<div class="abs t tb" style="top:23.3px;right:689px;color:#eceef2">AVG days</div>
<div class="abs t tb" style="top:23.3px;right:346px;color:#eceef2">233</div>
<div class="abs t tb" style="top:23.3px;right:6px;color:#eceef2">258</div>
<div class="abs row" style="top:46px;background:rgba(120,123,134,0.26)"></div>
<div class="abs t tb" style="top:46.3px;right:689px;color:#eceef2">TOTAL days</div>
<div class="abs t tb" style="top:46.3px;right:346px;color:#eceef2">2094</div>
<div class="abs t tb" style="top:46.3px;right:6px;color:#eceef2">2064</div>
</div>
<svg class="abs" style="left:10px;top:1212px" width="20" height="10" viewBox="0 0 36 18"><path fill="#d1d4dc" d="M14 18H7V7H0V0h14v18zM28 18h-8l7.5-18h8L28 18z"/><circle cx="20" cy="3.5" r="3.5" fill="#d1d4dc"/></svg>
<div class="abs t" style="left:33.6px;top:1210.1px;font-size:13px;line-height:16px;color:#d1d4dc">TradingView</div>
</div></body></html>
